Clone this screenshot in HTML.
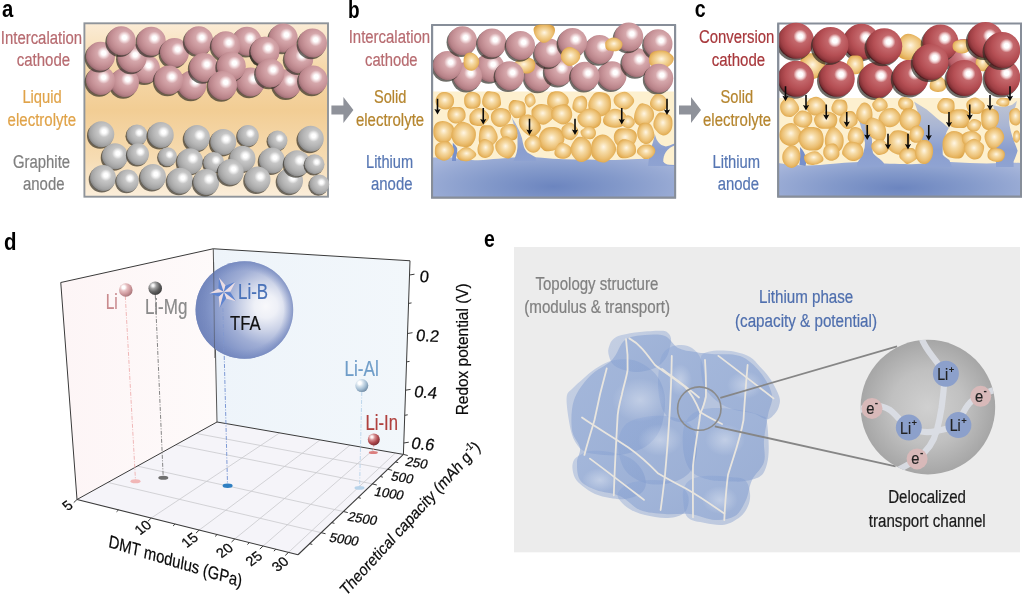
<!DOCTYPE html>
<html><head><meta charset="utf-8"><title>figure</title>
<style>html,body{margin:0;padding:0;background:#fff;}body{width:1024px;height:599px;overflow:hidden;font-family:"Liberation Sans",sans-serif;}svg{display:block;will-change:transform;font-family:"Liberation Sans",sans-serif;}</style>
</head><body>
<svg width="1024" height="599" viewBox="0 0 1024 599">
<defs>
<radialGradient id="gp" cx="0.61" cy="0.39" r="0.66">
<stop offset="0" stop-color="#ffffff"/><stop offset="0.11" stop-color="#ffffff"/><stop offset="0.215" stop-color="#f0d9db"/><stop offset="0.34" stop-color="#d5a7ab"/>
<stop offset="0.62" stop-color="#c79398"/><stop offset="0.82" stop-color="#b88389"/><stop offset="0.94" stop-color="#a07076"/><stop offset="1" stop-color="#664a4d"/></radialGradient>
<radialGradient id="gg" cx="0.61" cy="0.39" r="0.66">
<stop offset="0" stop-color="#ffffff"/><stop offset="0.11" stop-color="#ffffff"/><stop offset="0.215" stop-color="#e9e9e9"/><stop offset="0.34" stop-color="#c6c6c6"/>
<stop offset="0.62" stop-color="#b4b4b4"/><stop offset="0.82" stop-color="#a3a3a3"/><stop offset="0.94" stop-color="#8c8c8c"/><stop offset="1" stop-color="#585858"/></radialGradient>
<radialGradient id="gr" cx="0.62" cy="0.38" r="0.66">
<stop offset="0" stop-color="#ffffff"/><stop offset="0.10" stop-color="#ffffff"/><stop offset="0.185" stop-color="#efcfd0"/><stop offset="0.29" stop-color="#c4686c"/>
<stop offset="0.62" stop-color="#b54f54"/><stop offset="0.82" stop-color="#9f4045"/><stop offset="0.94" stop-color="#7f2f34"/><stop offset="1" stop-color="#45181b"/></radialGradient>
<radialGradient id="gr2" cx="0.62" cy="0.38" r="0.66">
<stop offset="0" stop-color="#ffffff"/><stop offset="0.11" stop-color="#ffffff"/><stop offset="0.22" stop-color="#f0d0d2"/><stop offset="0.34" stop-color="#d58a90"/>
<stop offset="0.60" stop-color="#c66f77"/><stop offset="0.85" stop-color="#b35a63"/><stop offset="1" stop-color="#7a3a40"/></radialGradient>
<radialGradient id="gy" cx="0.5" cy="0.5" r="0.56" fx="0.5" fy="0.44">
<stop offset="0" stop-color="#fff6e4"/><stop offset="0.32" stop-color="#f6dba6"/><stop offset="0.68" stop-color="#ecc074"/>
<stop offset="0.9" stop-color="#e1ab51"/><stop offset="1" stop-color="#d79d40"/></radialGradient>
<linearGradient id="bgA" x1="0" y1="0" x2="0" y2="1">
<stop offset="0" stop-color="#fbecd6"/><stop offset="0.25" stop-color="#f6d9ab"/><stop offset="0.5" stop-color="#f2cd94"/>
<stop offset="0.78" stop-color="#f6dcb3"/><stop offset="1" stop-color="#fbeedb"/></linearGradient>
<radialGradient id="gli" cx="0.5" cy="0.72" r="0.62" gradientTransform="translate(0.5 0.72) scale(1 1.5) translate(-0.5 -0.72)">
<stop offset="0" stop-color="#6c85bf"/><stop offset="0.45" stop-color="#8399ca"/><stop offset="0.8" stop-color="#98aad4"/><stop offset="1" stop-color="#a6b5da"/></radialGradient>
</defs>
<g font-family='"Liberation Sans", sans-serif'>
<text x="2.00" y="16.70" font-size="24" fill="#000" font-weight="bold" textLength="11.30" lengthAdjust="spacingAndGlyphs" >a</text>
<text x="348.00" y="18.00" font-size="24" fill="#000" font-weight="bold" textLength="11.60" lengthAdjust="spacingAndGlyphs" >b</text>
<text x="694.70" y="16.70" font-size="24" fill="#000" font-weight="bold" textLength="10.90" lengthAdjust="spacingAndGlyphs" >c</text>
<text x="4.00" y="250.00" font-size="24" fill="#000" font-weight="bold" textLength="12.50" lengthAdjust="spacingAndGlyphs" >d</text>
<text x="0.80" y="43.70" font-size="18" fill="#b76b70" stroke="#b76b70" stroke-width="0.22" font-weight="normal" textLength="81.30" lengthAdjust="spacingAndGlyphs" >Intercalation</text>
<text x="16.70" y="66.40" font-size="18" fill="#b76b70" stroke="#b76b70" stroke-width="0.22" font-weight="normal" textLength="53.40" lengthAdjust="spacingAndGlyphs" >cathode</text>
<text x="22.40" y="102.60" font-size="18" fill="#e0a349" stroke="#e0a349" stroke-width="0.22" font-weight="normal" textLength="39.30" lengthAdjust="spacingAndGlyphs" >Liquid</text>
<text x="7.60" y="126.10" font-size="18" fill="#e0a349" stroke="#e0a349" stroke-width="0.22" font-weight="normal" textLength="68.50" lengthAdjust="spacingAndGlyphs" >electrolyte</text>
<text x="13.00" y="167.50" font-size="18" fill="#7f7f7f" stroke="#7f7f7f" stroke-width="0.22" font-weight="normal" textLength="57.10" lengthAdjust="spacingAndGlyphs" >Graphite</text>
<text x="23.00" y="190.20" font-size="18" fill="#7f7f7f" stroke="#7f7f7f" stroke-width="0.22" font-weight="normal" textLength="41.50" lengthAdjust="spacingAndGlyphs" >anode</text>
<rect x="84.4" y="23.3" width="243.6" height="173.4" fill="url(#bgA)" stroke="#8f949a" stroke-width="1.9"/>
<circle cx="144.12" cy="70.34" r="14.55" fill="#2b2820" opacity="0.68"/><circle cx="145.50" cy="68.75" r="14.50" fill="url(#gp)"/>
<circle cx="263.62" cy="52.84" r="14.55" fill="#2b2820" opacity="0.68"/><circle cx="265.00" cy="51.25" r="14.50" fill="url(#gp)"/>
<circle cx="245.62" cy="42.84" r="14.55" fill="#2b2820" opacity="0.68"/><circle cx="247.00" cy="41.25" r="14.50" fill="url(#gp)"/>
<circle cx="281.87" cy="39.59" r="14.55" fill="#2b2820" opacity="0.68"/><circle cx="283.25" cy="38.00" r="14.50" fill="url(#gp)"/>
<circle cx="123.12" cy="84.09" r="14.55" fill="#2b2820" opacity="0.68"/><circle cx="124.50" cy="82.50" r="14.50" fill="url(#gp)"/>
<circle cx="99.12" cy="82.09" r="14.55" fill="#2b2820" opacity="0.68"/><circle cx="100.50" cy="80.50" r="14.50" fill="url(#gp)"/>
<circle cx="190.62" cy="86.59" r="14.55" fill="#2b2820" opacity="0.68"/><circle cx="192.00" cy="85.00" r="14.50" fill="url(#gp)"/>
<circle cx="249.12" cy="83.59" r="14.55" fill="#2b2820" opacity="0.68"/><circle cx="250.50" cy="82.00" r="14.50" fill="url(#gp)"/>
<circle cx="285.62" cy="85.34" r="14.55" fill="#2b2820" opacity="0.68"/><circle cx="287.00" cy="83.75" r="14.50" fill="url(#gp)"/>
<circle cx="99.12" cy="57.84" r="14.55" fill="#2b2820" opacity="0.68"/><circle cx="100.50" cy="56.25" r="14.50" fill="url(#gp)"/>
<circle cx="130.62" cy="59.59" r="14.55" fill="#2b2820" opacity="0.68"/><circle cx="132.00" cy="58.00" r="14.50" fill="url(#gp)"/>
<circle cx="149.87" cy="42.84" r="14.55" fill="#2b2820" opacity="0.68"/><circle cx="151.25" cy="41.25" r="14.50" fill="url(#gp)"/>
<circle cx="119.87" cy="42.34" r="14.55" fill="#2b2820" opacity="0.68"/><circle cx="121.25" cy="40.75" r="14.50" fill="url(#gp)"/>
<circle cx="173.12" cy="54.09" r="14.55" fill="#2b2820" opacity="0.68"/><circle cx="174.50" cy="52.50" r="14.50" fill="url(#gp)"/>
<circle cx="197.37" cy="42.34" r="14.55" fill="#2b2820" opacity="0.68"/><circle cx="198.75" cy="40.75" r="14.50" fill="url(#gp)"/>
<circle cx="224.37" cy="47.34" r="14.55" fill="#2b2820" opacity="0.68"/><circle cx="225.75" cy="45.75" r="14.50" fill="url(#gp)"/>
<circle cx="263.62" cy="52.84" r="14.55" fill="#2b2820" opacity="0.68"/><circle cx="265.00" cy="51.25" r="14.50" fill="url(#gp)"/>
<circle cx="297.37" cy="60.34" r="14.55" fill="#2b2820" opacity="0.68"/><circle cx="298.75" cy="58.75" r="14.50" fill="url(#gp)"/>
<circle cx="311.12" cy="44.59" r="14.55" fill="#2b2820" opacity="0.68"/><circle cx="312.50" cy="43.00" r="14.50" fill="url(#gp)"/>
<circle cx="202.37" cy="69.09" r="14.55" fill="#2b2820" opacity="0.68"/><circle cx="203.75" cy="67.50" r="14.50" fill="url(#gp)"/>
<circle cx="229.87" cy="67.84" r="14.55" fill="#2b2820" opacity="0.68"/><circle cx="231.25" cy="66.25" r="14.50" fill="url(#gp)"/>
<circle cx="167.37" cy="81.59" r="14.55" fill="#2b2820" opacity="0.68"/><circle cx="168.75" cy="80.00" r="14.50" fill="url(#gp)"/>
<circle cx="221.12" cy="87.09" r="14.55" fill="#2b2820" opacity="0.68"/><circle cx="222.50" cy="85.50" r="14.50" fill="url(#gp)"/>
<circle cx="268.62" cy="74.59" r="14.55" fill="#2b2820" opacity="0.68"/><circle cx="270.00" cy="73.00" r="14.50" fill="url(#gp)"/>
<circle cx="311.62" cy="81.59" r="14.55" fill="#2b2820" opacity="0.68"/><circle cx="313.00" cy="80.00" r="14.50" fill="url(#gp)"/>
<circle cx="100.02" cy="135.68" r="13.05" fill="#2b2820" opacity="0.68"/><circle cx="101.25" cy="134.25" r="13.00" fill="url(#gg)"/>
<circle cx="136.00" cy="136.16" r="10.55" fill="#2b2820" opacity="0.68"/><circle cx="137.00" cy="135.00" r="10.50" fill="url(#gg)"/>
<circle cx="159.51" cy="136.43" r="13.05" fill="#2b2820" opacity="0.68"/><circle cx="160.75" cy="135.00" r="13.00" fill="url(#gg)"/>
<circle cx="195.76" cy="139.43" r="13.05" fill="#2b2820" opacity="0.68"/><circle cx="197.00" cy="138.00" r="13.00" fill="url(#gg)"/>
<circle cx="222.01" cy="143.43" r="13.05" fill="#2b2820" opacity="0.68"/><circle cx="223.25" cy="142.00" r="13.00" fill="url(#gg)"/>
<circle cx="246.98" cy="136.93" r="10.80" fill="#2b2820" opacity="0.68"/><circle cx="248.00" cy="135.75" r="10.75" fill="url(#gg)"/>
<circle cx="276.55" cy="141.60" r="10.05" fill="#2b2820" opacity="0.68"/><circle cx="277.50" cy="140.50" r="10.00" fill="url(#gg)"/>
<circle cx="309.51" cy="140.18" r="13.05" fill="#2b2820" opacity="0.68"/><circle cx="310.75" cy="138.75" r="13.00" fill="url(#gg)"/>
<circle cx="113.77" cy="157.68" r="13.05" fill="#2b2820" opacity="0.68"/><circle cx="115.00" cy="156.25" r="13.00" fill="url(#gg)"/>
<circle cx="136.96" cy="155.46" r="11.05" fill="#2b2820" opacity="0.68"/><circle cx="138.00" cy="154.25" r="11.00" fill="url(#gg)"/>
<circle cx="166.60" cy="157.79" r="9.55" fill="#2b2820" opacity="0.68"/><circle cx="167.50" cy="156.75" r="9.50" fill="url(#gg)"/>
<circle cx="241.26" cy="160.18" r="13.05" fill="#2b2820" opacity="0.68"/><circle cx="242.50" cy="158.75" r="13.00" fill="url(#gg)"/>
<circle cx="188.76" cy="162.68" r="13.05" fill="#2b2820" opacity="0.68"/><circle cx="190.00" cy="161.25" r="13.00" fill="url(#gg)"/>
<circle cx="212.75" cy="163.66" r="10.55" fill="#2b2820" opacity="0.68"/><circle cx="213.75" cy="162.50" r="10.50" fill="url(#gg)"/>
<circle cx="270.76" cy="161.93" r="13.05" fill="#2b2820" opacity="0.68"/><circle cx="272.00" cy="160.50" r="13.00" fill="url(#gg)"/>
<circle cx="101.77" cy="179.43" r="13.05" fill="#2b2820" opacity="0.68"/><circle cx="103.00" cy="178.00" r="13.00" fill="url(#gg)"/>
<circle cx="126.43" cy="181.99" r="11.30" fill="#2b2820" opacity="0.68"/><circle cx="127.50" cy="180.75" r="11.25" fill="url(#gg)"/>
<circle cx="151.76" cy="178.43" r="13.05" fill="#2b2820" opacity="0.68"/><circle cx="153.00" cy="177.00" r="13.00" fill="url(#gg)"/>
<circle cx="178.76" cy="182.18" r="13.05" fill="#2b2820" opacity="0.68"/><circle cx="180.00" cy="180.75" r="13.00" fill="url(#gg)"/>
<circle cx="205.01" cy="183.43" r="13.05" fill="#2b2820" opacity="0.68"/><circle cx="206.25" cy="182.00" r="13.00" fill="url(#gg)"/>
<circle cx="229.51" cy="173.43" r="13.05" fill="#2b2820" opacity="0.68"/><circle cx="230.75" cy="172.00" r="13.00" fill="url(#gg)"/>
<circle cx="256.26" cy="180.93" r="13.05" fill="#2b2820" opacity="0.68"/><circle cx="257.50" cy="179.50" r="13.00" fill="url(#gg)"/>
<circle cx="288.76" cy="182.18" r="13.05" fill="#2b2820" opacity="0.68"/><circle cx="290.00" cy="180.75" r="13.00" fill="url(#gg)"/>
<circle cx="318.30" cy="185.60" r="10.05" fill="#2b2820" opacity="0.68"/><circle cx="319.25" cy="184.50" r="10.00" fill="url(#gg)"/>
<circle cx="295.76" cy="164.68" r="13.05" fill="#2b2820" opacity="0.68"/><circle cx="297.00" cy="163.25" r="13.00" fill="url(#gg)"/>
<circle cx="313.55" cy="165.35" r="10.05" fill="#2b2820" opacity="0.68"/><circle cx="314.50" cy="164.25" r="10.00" fill="url(#gg)"/>
<text x="348.70" y="43.40" font-size="18" fill="#b76b70" stroke="#b76b70" stroke-width="0.22" font-weight="normal" textLength="81.40" lengthAdjust="spacingAndGlyphs" >Intercalation</text>
<text x="365.00" y="66.40" font-size="18" fill="#b76b70" stroke="#b76b70" stroke-width="0.22" font-weight="normal" textLength="52.60" lengthAdjust="spacingAndGlyphs" >cathode</text>
<text x="374.00" y="102.60" font-size="18" fill="#b5852e" stroke="#b5852e" stroke-width="0.22" font-weight="normal" textLength="32.50" lengthAdjust="spacingAndGlyphs" >Solid</text>
<text x="355.90" y="126.00" font-size="18" fill="#b5852e" stroke="#b5852e" stroke-width="0.22" font-weight="normal" textLength="68.30" lengthAdjust="spacingAndGlyphs" >electrolyte</text>
<text x="366.00" y="167.50" font-size="18" fill="#5676b3" stroke="#5676b3" stroke-width="0.22" font-weight="normal" textLength="47.10" lengthAdjust="spacingAndGlyphs" >Lithium</text>
<text x="371.00" y="190.20" font-size="18" fill="#5676b3" stroke="#5676b3" stroke-width="0.22" font-weight="normal" textLength="41.50" lengthAdjust="spacingAndGlyphs" >anode</text>
<path d="M331.4 105.6H343.4V97L353.4 110L343.4 123V114.5H331.4Z" fill="#8f929a"/>
<path d="M679 105.6H691V97L701 110L691 123V114.5H679Z" fill="#8f929a"/>
<defs><linearGradient id="dend" gradientUnits="userSpaceOnUse" x1="0" y1="100" x2="0" y2="166"><stop offset="0" stop-color="#c1c6d2"/><stop offset="0.4" stop-color="#a9b5d3"/><stop offset="0.75" stop-color="#8a9ecf"/><stop offset="1" stop-color="#8fa3d2"/></linearGradient><clipPath id="clipB"><rect x="432.1" y="15" width="243" height="182.6"/></clipPath><clipPath id="clipC"><rect x="778.2" y="15" width="242.8" height="181.6"/></clipPath></defs>
<rect x="432.1" y="25" width="243" height="172.6" fill="#fff" stroke="#878e99" stroke-width="2"/>
<g clip-path="url(#clipB)">
<rect x="431" y="91.5" width="245" height="70" fill="#fdf0cf"/>
<path d="M431 157.4 C440 157.4 448 157.4 453 157.6 C460 159.5 470 160.3 478 160.3 C485 160 492 159.2 498 158.8 C508 157.5 520 156.9 532 157 C545 158 560 159.5 575 159.5 C590 159 600 160.5 615 160 C630 159 645 158.5 660 158.5 C668 158.6 672 158.3 676 158 V198 H431Z" fill="url(#gli)"/>
<path d="M452.8 142.8 C454.5 144.3 456 146 457.1 148 C457.6 151 457 154.5 456 157.4 L456 161 L452 161 C452.5 155 452.8 149 452.8 142.8Z" fill="#7790cb"/>
<path d="M511.6 117 C512.5 119.5 513 121.5 513.4 123.4 C515 127.5 516.5 131.5 517.5 135 L517.5 146.7 C517.3 150 516.8 153 515.5 156 L513.5 161 L536 161 L535.6 157.2 C532.5 155.5 529.8 154.2 527.4 152.6 C525.5 150.5 524.6 148.6 523.9 146.7 C523 144 522.5 141.3 522.1 138.6 C521.2 135.8 520.2 133 519.2 130.4 C516.7 125.5 514.2 121 511.6 117Z" fill="url(#dend)"/>
<path d="M654.8 134.1 C655.3 136 655.9 137.8 656.6 139.4 C657.6 141.2 658.8 142.7 660.1 144 C661.8 145.3 663.8 146.1 665.9 146.4 C668.5 146 670.9 145.2 673 144 L676 143.2 L676 166 L648 166 L650 150 C652.5 145 654 139.5 654.8 134.1Z" fill="url(#dend)"/>
<path d="M676 144.8 C671.5 146.5 668 149 665.9 152 C664 155 663 158.5 663.3 161.5 C664.2 163.6 666.5 164.6 669.5 164.8 L676 165Z" fill="#fdf0cf"/>
<circle cx="488.62" cy="69.09" r="14.55" fill="#2b2820" opacity="0.68"/><circle cx="490.00" cy="67.50" r="14.50" fill="url(#gp)"/>
<circle cx="466.12" cy="77.84" r="14.55" fill="#2b2820" opacity="0.68"/><circle cx="467.50" cy="76.25" r="14.50" fill="url(#gp)"/>
<circle cx="537.37" cy="78.59" r="14.55" fill="#2b2820" opacity="0.68"/><circle cx="538.75" cy="77.00" r="14.50" fill="url(#gp)"/>
<circle cx="557.37" cy="72.84" r="14.55" fill="#2b2820" opacity="0.68"/><circle cx="558.75" cy="71.25" r="14.50" fill="url(#gp)"/>
<circle cx="610.62" cy="77.34" r="14.55" fill="#2b2820" opacity="0.68"/><circle cx="612.00" cy="75.75" r="14.50" fill="url(#gp)"/>
<circle cx="446.12" cy="67.09" r="14.55" fill="#2b2820" opacity="0.68"/><circle cx="447.50" cy="65.50" r="14.50" fill="url(#gp)"/>
<path d="M535.2 64.5C535.2 66.6 534.9 69.2 533.2 70.9C531.4 72.6 529.0 73.4 526.1 73.5C523.1 73.6 520.4 72.9 517.9 71.3C515.3 69.8 513.0 67.7 512.8 65.6C512.6 63.5 514.7 62.2 516.9 60.5C519.2 58.8 521.5 56.9 524.6 56.7C527.7 56.5 531.1 58.1 533.1 59.6C535.1 61.1 535.2 62.3 535.2 64.5Z" fill="url(#gy)"/>
<circle cx="508.12" cy="77.34" r="14.55" fill="#2b2820" opacity="0.68"/><circle cx="509.50" cy="75.75" r="14.50" fill="url(#gp)"/>
<circle cx="583.62" cy="77.84" r="14.55" fill="#2b2820" opacity="0.68"/><circle cx="585.00" cy="76.25" r="14.50" fill="url(#gp)"/>
<circle cx="547.37" cy="54.59" r="14.55" fill="#2b2820" opacity="0.68"/><circle cx="548.75" cy="53.00" r="14.50" fill="url(#gp)"/>
<circle cx="634.87" cy="64.09" r="14.55" fill="#2b2820" opacity="0.68"/><circle cx="636.25" cy="62.50" r="14.50" fill="url(#gp)"/>
<circle cx="461.12" cy="42.34" r="14.55" fill="#2b2820" opacity="0.68"/><circle cx="462.50" cy="40.75" r="14.50" fill="url(#gp)"/>
<circle cx="490.62" cy="44.59" r="14.55" fill="#2b2820" opacity="0.68"/><circle cx="492.00" cy="43.00" r="14.50" fill="url(#gp)"/>
<circle cx="519.12" cy="47.09" r="14.55" fill="#2b2820" opacity="0.68"/><circle cx="520.50" cy="45.50" r="14.50" fill="url(#gp)"/>
<circle cx="598.12" cy="51.09" r="14.55" fill="#2b2820" opacity="0.68"/><circle cx="599.50" cy="49.50" r="14.50" fill="url(#gp)"/>
<circle cx="571.12" cy="44.09" r="14.55" fill="#2b2820" opacity="0.68"/><circle cx="572.50" cy="42.50" r="14.50" fill="url(#gp)"/>
<circle cx="627.37" cy="38.59" r="14.55" fill="#2b2820" opacity="0.68"/><circle cx="628.75" cy="37.00" r="14.50" fill="url(#gp)"/>
<circle cx="656.62" cy="45.34" r="14.55" fill="#2b2820" opacity="0.68"/><circle cx="658.00" cy="43.75" r="14.50" fill="url(#gp)"/>
<path d="M673.8 58.8C673.7 61.3 672.1 63.8 669.4 65.8C666.7 67.9 663.3 69.5 659.8 69.5C656.3 69.5 653.5 67.7 651.4 65.8C649.4 64.0 648.9 62.4 649.0 59.8C649.1 57.3 649.5 54.3 652.0 52.5C654.4 50.7 658.6 50.4 662.0 50.5C665.5 50.7 667.5 51.7 669.8 53.3C672.0 54.9 673.9 56.4 673.8 58.8Z" fill="url(#gy)"/>
<circle cx="657.37" cy="79.84" r="14.55" fill="#2b2820" opacity="0.68"/><circle cx="658.75" cy="78.25" r="14.50" fill="url(#gp)"/>
<path d="M533.6 30 C533.5 26.4 536.5 24.7 541 24.6 L548 24.6 C552.4 24.7 555.2 26.6 555 30.6 C554.6 35.2 551.6 39.2 548 41.6 C545.5 43.1 543 43.1 541 41.9 C537 39.6 533.9 35 533.6 30Z" fill="url(#gy)"/>
<path d="M479.2 61.9C479.2 64.3 478.1 66.4 476.6 68.1C475.0 69.8 473.5 70.9 471.3 70.8C469.1 70.7 466.6 69.6 465.1 67.8C463.6 66.0 463.7 64.0 463.6 61.6C463.6 59.1 463.6 57.0 464.9 55.2C466.2 53.5 468.2 52.5 470.5 52.6C472.7 52.7 475.0 54.0 476.7 55.8C478.4 57.6 479.3 59.6 479.2 61.9Z" fill="url(#gy)"/>
<path d="M580.3 55.3C580.4 57.6 579.7 59.8 577.7 61.9C575.7 63.9 572.4 65.8 569.7 66.0C567.0 66.1 565.4 64.4 563.7 62.7C562.0 61.0 561.0 59.4 560.9 57.1C560.7 54.8 561.2 52.7 562.8 50.7C564.4 48.8 566.5 47.2 569.2 47.1C571.9 47.0 574.6 48.5 576.8 50.1C578.9 51.7 580.1 53.0 580.3 55.3Z" fill="url(#gy)"/>
<path d="M622.5 44.8C622.3 46.6 621.3 48.5 619.6 49.7C618.0 51.0 616.4 51.2 614.0 51.2C611.5 51.3 608.8 51.1 607.1 49.8C605.4 48.5 605.3 46.3 605.3 44.5C605.2 42.7 605.2 41.7 606.8 40.4C608.4 39.0 611.1 37.6 613.6 37.5C616.2 37.5 618.5 38.9 620.2 40.3C621.9 41.7 622.6 43.0 622.5 44.8Z" fill="url(#gy)"/>
<path d="M454.1 101.0C454.1 103.5 453.0 105.6 451.4 107.3C449.7 108.9 447.9 109.6 445.4 109.5C442.8 109.4 440.2 108.3 438.3 106.8C436.4 105.2 435.6 103.6 435.5 101.4C435.5 99.1 436.3 96.9 437.9 95.1C439.4 93.3 440.9 92.3 443.5 92.1C446.1 92.0 449.2 92.6 451.2 94.3C453.3 96.0 454.0 98.5 454.1 101.0Z" fill="url(#gy)"/>
<path d="M480.6 100.3C480.7 102.6 480.5 104.7 479.0 106.4C477.5 108.0 475.3 108.7 472.8 108.8C470.4 108.9 467.8 108.5 466.1 106.9C464.4 105.2 464.1 102.4 464.1 100.1C464.1 97.7 464.5 96.1 466.0 94.5C467.4 92.9 469.3 91.7 471.7 91.7C474.2 91.6 477.0 92.7 478.7 94.3C480.4 96.0 480.5 97.9 480.6 100.3Z" fill="url(#gy)"/>
<path d="M500.8 100.8C501.1 103.2 501.5 104.8 499.6 106.6C497.8 108.4 494.2 110.1 491.3 110.2C488.4 110.3 486.4 108.9 484.7 107.3C482.9 105.6 482.0 104.2 482.1 101.4C482.3 98.7 483.6 94.8 485.3 92.9C487.0 91.0 488.4 91.3 490.9 91.4C493.4 91.6 496.4 91.9 498.3 93.7C500.2 95.5 500.5 98.3 500.8 100.8Z" fill="url(#gy)"/>
<path d="M525.6 109.0C525.7 111.5 526.3 113.7 524.6 115.4C522.8 117.2 518.9 118.2 516.5 118.2C514.1 118.2 513.6 117.2 512.0 115.3C510.5 113.4 508.8 110.9 508.6 108.2C508.4 105.5 509.6 102.7 511.2 101.2C512.7 99.6 514.3 99.9 516.8 100.2C519.3 100.5 522.2 100.9 523.9 102.6C525.6 104.3 525.5 106.6 525.6 109.0Z" fill="url(#gy)"/>
<path d="M535.6 101.0C535.6 102.8 535.2 103.4 534.0 104.6C532.8 105.8 530.9 107.4 529.4 107.4C527.9 107.3 527.0 105.7 526.1 104.4C525.2 103.1 524.8 102.0 524.7 100.4C524.6 98.9 524.8 97.6 525.7 96.2C526.7 94.9 528.3 93.6 529.8 93.4C531.3 93.2 532.6 93.7 533.7 95.2C534.8 96.7 535.5 99.2 535.6 101.0Z" fill="url(#gy)"/>
<path d="M568.8 100.9C568.9 103.4 567.4 105.2 565.3 107.1C563.1 108.9 560.4 110.6 557.5 110.6C554.5 110.7 551.9 108.9 549.9 107.3C547.9 105.6 547.1 104.6 547.1 102.0C547.1 99.4 547.8 95.6 549.9 93.5C552.0 91.5 555.1 91.2 558.0 91.3C560.9 91.4 562.9 92.4 565.0 94.2C567.1 96.0 568.8 98.4 568.8 100.9Z" fill="url(#gy)"/>
<path d="M587.2 104.1C587.1 106.6 586.5 109.1 585.1 110.9C583.7 112.6 581.9 113.3 579.8 113.2C577.6 113.1 575.3 111.8 573.9 110.3C572.5 108.9 572.3 108.0 572.5 105.7C572.7 103.5 573.4 100.6 574.9 98.7C576.4 96.8 578.3 96.0 580.4 95.9C582.4 95.7 584.2 96.2 585.5 97.8C586.9 99.4 587.3 101.6 587.2 104.1Z" fill="url(#gy)"/>
<path d="M611.0 103.6C611.1 106.9 610.9 109.8 608.9 112.3C606.9 114.8 603.7 116.3 600.5 116.6C597.3 116.9 594.6 116.1 592.2 113.9C589.9 111.7 588.2 108.7 588.2 105.2C588.3 101.6 590.4 97.9 592.5 95.4C594.5 92.9 595.7 92.2 598.8 92.1C601.8 92.0 606.0 92.8 608.3 95.0C610.7 97.2 610.9 100.3 611.0 103.6Z" fill="url(#gy)"/>
<path d="M634.2 101.0C634.1 103.4 632.0 105.5 630.2 107.1C628.4 108.7 627.3 109.5 624.7 109.4C622.2 109.3 619.2 108.3 617.1 106.6C614.9 104.9 613.8 102.8 613.6 100.6C613.5 98.3 614.3 96.5 616.4 94.8C618.5 93.1 621.8 91.7 624.6 91.7C627.3 91.7 628.9 93.1 630.7 94.9C632.6 96.7 634.3 98.7 634.2 101.0Z" fill="url(#gy)"/>
<path d="M667.8 104.0C667.9 106.4 666.8 107.9 665.1 109.3C663.4 110.7 661.5 111.4 659.1 111.2C656.6 111.1 654.2 110.0 652.5 108.5C650.8 107.0 650.0 105.7 650.0 103.6C650.0 101.5 650.9 99.3 652.4 97.4C653.9 95.6 655.5 94.1 657.8 94.0C660.1 93.8 662.6 94.7 664.5 96.7C666.4 98.6 667.7 101.6 667.8 104.0Z" fill="url(#gy)"/>
<path d="M465.6 114.6C465.7 116.8 465.4 118.8 463.5 120.5C461.7 122.2 458.6 123.4 456.0 123.5C453.4 123.6 451.7 122.7 450.1 121.1C448.4 119.4 447.4 117.4 447.4 114.9C447.4 112.4 448.2 109.7 450.2 108.2C452.1 106.7 455.1 107.0 457.6 107.1C460.1 107.1 461.5 107.2 463.0 108.6C464.5 110.1 465.5 112.3 465.6 114.6Z" fill="url(#gy)"/>
<path d="M489.1 117.3C489.0 119.8 486.4 122.0 484.6 123.7C482.8 125.4 482.2 125.9 479.7 126.0C477.1 126.0 473.3 125.6 471.3 124.0C469.3 122.4 469.3 119.9 469.4 117.6C469.4 115.4 469.8 114.1 471.5 112.3C473.2 110.4 475.6 108.4 478.2 108.1C480.8 107.8 482.9 108.9 485.0 110.6C487.1 112.4 489.2 114.8 489.1 117.3Z" fill="url(#gy)"/>
<path d="M511.1 116.3C511.1 118.8 510.1 121.2 508.0 123.2C505.9 125.3 503.1 126.9 500.2 126.9C497.4 127.0 494.9 125.6 493.1 123.5C491.3 121.4 490.7 118.6 490.9 116.1C491.1 113.5 492.3 111.8 494.1 110.3C495.9 108.7 497.5 108.0 500.2 108.0C502.8 108.0 505.7 108.5 507.8 110.1C509.9 111.7 511.0 113.7 511.1 116.3Z" fill="url(#gy)"/>
<path d="M554.0 114.9C554.3 117.4 553.4 118.1 551.3 120.0C549.3 121.8 546.6 124.6 543.3 124.7C539.9 124.8 536.2 122.8 533.9 120.5C531.6 118.2 531.5 115.2 531.5 112.7C531.4 110.1 531.6 109.0 533.5 107.4C535.4 105.7 538.0 104.1 541.2 104.0C544.4 103.9 547.7 104.8 550.2 106.9C552.6 109.0 553.8 112.4 554.0 114.9Z" fill="url(#gy)"/>
<path d="M572.2 113.8C572.4 116.5 571.7 118.7 570.0 120.7C568.2 122.8 566.1 124.5 563.2 124.5C560.3 124.5 557.1 122.6 554.8 120.8C552.5 118.9 551.6 117.5 551.4 114.9C551.1 112.4 551.6 109.6 553.6 107.5C555.7 105.5 559.1 104.6 562.1 104.4C565.0 104.1 567.0 104.5 569.0 106.3C570.9 108.1 572.0 111.0 572.2 113.8Z" fill="url(#gy)"/>
<path d="M601.1 117.9C601.4 120.7 601.1 123.6 599.0 125.7C597.0 127.8 594.1 128.8 590.5 128.8C587.0 128.7 583.1 127.4 580.6 125.2C578.1 123.1 577.3 120.0 577.4 117.6C577.5 115.2 579.2 114.3 581.4 112.5C583.5 110.7 585.4 108.6 588.6 108.4C591.7 108.1 595.4 109.5 597.8 111.3C600.2 113.1 600.9 115.1 601.1 117.9Z" fill="url(#gy)"/>
<path d="M626.7 119.5C626.4 122.1 624.9 124.5 622.6 126.1C620.3 127.7 617.8 127.8 614.6 127.7C611.4 127.5 608.0 126.9 605.8 125.3C603.6 123.7 602.7 121.9 603.1 119.4C603.5 116.9 605.6 114.4 607.8 112.3C610.1 110.3 611.7 108.7 614.8 108.7C617.9 108.7 621.7 110.4 624.0 112.4C626.3 114.5 626.9 116.9 626.7 119.5Z" fill="url(#gy)"/>
<path d="M634.8 122.6C634.8 124.4 633.6 125.7 632.3 126.8C631.0 127.9 629.6 128.5 627.8 128.4C626.1 128.2 624.5 127.3 623.1 126.0C621.8 124.6 620.8 122.9 620.9 121.4C620.9 119.9 622.3 119.3 623.5 118.2C624.8 117.0 625.7 115.5 627.3 115.4C629.0 115.2 630.8 116.2 632.3 117.6C633.7 119.0 634.8 120.8 634.8 122.6Z" fill="url(#gy)"/>
<path d="M654.0 116.2C653.7 119.1 651.7 121.1 649.7 123.1C647.6 125.1 646.0 126.4 643.4 126.5C640.7 126.5 637.6 125.2 635.8 123.2C634.1 121.2 633.8 119.1 634.2 115.8C634.5 112.6 635.9 108.8 637.7 106.4C639.5 104.0 640.8 103.1 643.4 103.4C646.1 103.6 649.5 105.2 651.5 107.7C653.6 110.1 654.4 113.2 654.0 116.2Z" fill="url(#gy)"/>
<path d="M672.5 123.2C672.5 126.3 672.0 129.4 670.1 131.7C668.3 134.0 665.7 135.6 663.0 135.4C660.3 135.1 657.9 132.7 656.1 130.5C654.2 128.3 653.2 126.8 653.4 123.8C653.5 120.8 655.2 117.1 656.8 114.9C658.5 112.8 659.3 112.3 661.9 112.4C664.4 112.6 668.1 113.5 670.1 115.6C672.2 117.7 672.5 120.1 672.5 123.2Z" fill="url(#gy)"/>
<path d="M454.1 130.0C454.0 133.2 452.5 137.5 450.4 140.0C448.3 142.5 445.8 143.1 443.0 143.0C440.2 142.9 437.7 141.7 435.8 139.6C434.0 137.5 433.4 135.1 433.3 132.1C433.3 129.1 433.8 126.0 435.6 123.8C437.4 121.7 439.8 120.9 442.7 120.9C445.6 120.9 448.6 122.0 450.8 123.7C452.9 125.5 454.1 126.9 454.1 130.0Z" fill="url(#gy)"/>
<path d="M475.9 135.2C475.7 138.7 473.9 142.5 471.8 144.7C469.6 147.0 468.0 147.1 464.8 146.9C461.6 146.8 457.7 146.3 455.1 144.0C452.6 141.7 451.5 138.4 451.4 135.1C451.4 131.8 452.8 129.3 454.9 126.8C457.0 124.2 458.9 121.7 462.4 121.7C465.9 121.7 470.4 124.2 472.9 126.8C475.5 129.4 476.1 131.8 475.9 135.2Z" fill="url(#gy)"/>
<path d="M497.7 136.9C497.9 140.0 496.2 141.6 494.2 143.7C492.3 145.8 490.1 147.8 487.3 147.9C484.6 148.1 481.7 146.8 480.1 144.6C478.5 142.3 478.6 139.6 478.9 136.2C479.1 132.8 479.7 128.8 481.4 126.7C483.1 124.7 485.5 125.2 487.8 125.3C490.0 125.4 491.3 125.1 493.2 127.3C495.1 129.5 497.5 133.7 497.7 136.9Z" fill="url(#gy)"/>
<path d="M517.4 132.5C517.6 135.1 517.7 137.3 516.1 138.9C514.5 140.4 511.6 140.7 509.2 140.6C506.7 140.5 505.2 140.2 503.4 138.4C501.7 136.7 500.3 133.7 500.3 131.5C500.2 129.2 501.5 127.9 503.3 126.5C505.1 125.1 507.3 124.3 509.5 124.1C511.8 123.9 513.4 123.9 515.0 125.6C516.5 127.2 517.2 130.0 517.4 132.5Z" fill="url(#gy)"/>
<path d="M538.6 125.6C538.7 128.7 538.8 131.4 537.2 133.5C535.6 135.6 532.8 136.3 530.2 136.5C527.7 136.7 525.5 137.1 523.7 134.6C521.9 132.1 520.9 127.2 520.8 123.5C520.8 119.7 521.9 117.1 523.6 115.1C525.3 113.1 527.3 112.5 529.8 112.9C532.3 113.4 534.9 114.9 536.6 117.4C538.3 119.8 538.5 122.5 538.6 125.6Z" fill="url(#gy)" transform="rotate(-38 530.0 125.0)"/>
<path d="M564.4 139.8C564.1 143.2 561.6 145.3 558.9 147.5C556.2 149.6 553.5 150.7 550.4 151.1C547.3 151.5 545.1 151.7 542.8 149.5C540.6 147.4 538.5 143.7 538.5 140.0C538.5 136.3 540.2 132.8 542.6 130.3C545.1 127.8 547.5 127.1 551.0 127.0C554.5 126.9 558.2 127.3 560.8 129.7C563.4 132.2 564.8 136.4 564.4 139.8Z" fill="url(#gy)"/>
<path d="M578.4 132.0C578.2 134.3 576.4 136.4 574.8 138.0C573.3 139.5 572.3 140.3 570.1 140.1C567.9 139.9 565.3 139.0 563.6 137.1C561.9 135.2 561.4 132.3 561.4 130.2C561.4 128.0 562.1 127.2 563.7 125.7C565.4 124.2 567.6 122.3 569.9 122.4C572.2 122.5 574.1 124.3 575.7 126.1C577.3 128.0 578.5 129.7 578.4 132.0Z" fill="url(#gy)"/>
<path d="M596.0 133.0C596.0 135.0 594.8 137.0 593.6 138.1C592.4 139.3 591.5 139.2 589.6 139.2C587.8 139.1 585.7 139.4 584.0 138.1C582.2 136.8 580.6 134.0 580.5 132.2C580.4 130.4 581.8 129.9 583.5 128.7C585.1 127.5 587.1 126.3 589.1 126.2C591.0 126.1 592.4 126.8 593.8 128.1C595.1 129.4 596.0 131.1 596.0 133.0Z" fill="url(#gy)"/>
<path d="M636.9 136.7C636.7 139.5 635.3 142.9 633.2 145.0C631.1 147.1 629.1 147.6 626.1 147.8C623.0 147.9 619.8 147.6 617.5 145.6C615.1 143.7 614.0 140.6 613.8 137.6C613.7 134.6 614.7 131.7 616.9 129.9C619.1 128.1 622.2 128.1 625.4 128.2C628.7 128.3 631.7 128.8 633.9 130.4C636.0 132.0 637.0 133.9 636.9 136.7Z" fill="url(#gy)"/>
<path d="M654.4 134.8C654.5 137.7 653.7 138.7 652.2 140.4C650.8 142.2 649.0 143.9 646.7 144.1C644.4 144.2 642.2 143.3 640.4 141.3C638.5 139.3 637.2 136.8 637.2 133.6C637.1 130.4 638.2 126.6 640.1 124.6C642.0 122.5 644.9 122.7 647.1 122.9C649.3 123.1 650.1 123.4 651.5 125.7C652.9 128.0 654.2 132.0 654.4 134.8Z" fill="url(#gy)"/>
<path d="M454.1 150.3C454.2 152.8 453.0 154.7 451.1 156.7C449.3 158.7 447.3 160.6 444.5 160.7C441.6 160.7 438.1 159.0 436.3 157.0C434.5 154.9 434.8 152.4 434.9 150.0C435.1 147.5 435.1 145.8 437.1 144.1C439.1 142.4 442.8 141.2 445.4 141.1C448.1 141.1 449.2 142.1 450.9 143.9C452.5 145.6 454.1 147.8 454.1 150.3Z" fill="url(#gy)"/>
<path d="M476.3 154.3C476.5 156.1 474.7 157.4 472.8 158.7C470.9 160.0 469.1 161.0 466.5 161.2C463.9 161.4 461.3 161.0 459.4 159.8C457.5 158.5 456.6 156.5 456.7 154.7C456.7 152.8 457.9 151.7 459.7 150.3C461.5 148.8 463.7 147.3 466.0 147.1C468.3 146.9 469.9 148.0 471.9 149.4C473.9 150.8 476.1 152.5 476.3 154.3Z" fill="url(#gy)"/>
<path d="M493.8 149.3C493.6 151.9 492.2 154.1 490.5 155.8C488.8 157.4 487.2 158.0 485.0 157.9C482.9 157.8 480.7 156.8 479.3 155.2C477.9 153.6 477.6 152.0 477.5 149.8C477.5 147.5 478.0 145.3 479.2 143.3C480.5 141.2 481.6 139.1 484.0 138.9C486.3 138.7 489.6 140.1 491.4 142.1C493.3 144.1 494.0 146.7 493.8 149.3Z" fill="url(#gy)"/>
<path d="M515.9 147.7C515.8 150.2 514.9 152.6 513.3 154.7C511.7 156.8 510.3 158.7 507.5 158.6C504.7 158.4 501.0 156.3 498.6 154.0C496.3 151.6 495.3 149.0 495.2 146.3C495.2 143.7 496.1 142.2 498.3 140.3C500.4 138.4 503.5 136.0 506.5 136.3C509.4 136.5 511.7 139.2 513.5 141.4C515.3 143.6 515.9 145.1 515.9 147.7Z" fill="url(#gy)"/>
<path d="M541.3 143.4C541.3 145.8 540.4 148.3 538.9 150.1C537.4 151.9 535.5 152.6 533.4 152.7C531.2 152.7 529.3 152.0 527.6 150.3C525.9 148.6 524.6 146.1 524.5 143.8C524.5 141.4 525.7 139.9 527.5 138.3C529.2 136.6 531.3 135.2 533.5 135.2C535.7 135.1 537.3 136.4 538.8 138.0C540.3 139.6 541.2 141.1 541.3 143.4Z" fill="url(#gy)"/>
<path d="M571.5 150.5C571.5 152.5 571.1 154.8 569.3 156.4C567.6 158.0 564.8 158.8 562.2 158.8C559.7 158.8 557.5 157.5 556.0 156.2C554.5 154.9 554.3 154.1 554.5 152.1C554.7 150.0 555.8 147.3 557.2 145.5C558.6 143.6 559.2 142.4 561.6 142.5C563.9 142.6 567.5 144.5 569.4 146.0C571.4 147.6 571.5 148.5 571.5 150.5Z" fill="url(#gy)"/>
<path d="M591.7 150.5C591.8 153.7 591.3 155.7 589.3 158.0C587.3 160.2 584.2 162.0 581.4 162.0C578.5 162.0 576.4 160.4 574.3 158.0C572.2 155.5 570.5 152.7 570.5 149.3C570.5 145.9 572.5 142.7 574.3 140.3C576.2 137.9 577.3 136.6 580.1 136.8C583.0 136.9 586.9 138.3 589.1 141.0C591.3 143.6 591.7 147.2 591.7 150.5Z" fill="url(#gy)"/>
<path d="M616.1 149.0C616.0 153.0 612.7 156.7 610.1 159.3C607.5 161.9 605.6 162.7 602.5 162.6C599.4 162.4 596.2 160.9 594.0 158.6C591.7 156.2 591.0 154.0 591.0 150.3C590.9 146.6 591.4 142.5 593.6 139.4C595.8 136.3 598.9 134.6 602.2 134.4C605.5 134.2 608.0 135.6 610.7 138.4C613.3 141.2 616.2 145.0 616.1 149.0Z" fill="url(#gy)"/>
<path d="M636.0 149.4C636.1 151.8 635.8 153.5 633.7 155.2C631.7 156.9 628.2 158.1 625.4 158.3C622.5 158.5 620.6 158.1 618.9 156.4C617.2 154.7 616.5 152.4 616.6 149.5C616.7 146.6 617.6 143.4 619.3 141.4C621.0 139.5 622.8 139.0 625.5 139.3C628.2 139.6 631.3 140.9 633.3 142.9C635.4 144.8 636.0 147.0 636.0 149.4Z" fill="url(#gy)"/>
<path d="M655.3 151.2C655.1 153.2 653.7 155.4 651.8 156.9C649.9 158.4 647.4 159.2 645.3 159.1C643.3 159.1 642.7 157.8 641.1 156.4C639.4 155.0 637.0 153.8 636.9 151.9C636.8 149.9 638.4 147.7 640.4 146.3C642.3 144.9 644.4 144.5 646.8 144.5C649.2 144.5 651.2 144.9 652.8 146.2C654.4 147.5 655.4 149.1 655.3 151.2Z" fill="url(#gy)"/>
<path d="M437.50 98.75V110.50" stroke="#0a0a0a" stroke-width="1.6" fill="none"/><path d="M434.40 108.90L437.50 114.50L440.60 108.90L437.50 110.10Z" fill="#0a0a0a"/>
<path d="M483.25 108.00V120.50" stroke="#0a0a0a" stroke-width="1.6" fill="none"/><path d="M480.15 118.90L483.25 124.50L486.35 118.90L483.25 120.10Z" fill="#0a0a0a"/>
<path d="M529.50 118.75V131.00" stroke="#0a0a0a" stroke-width="1.6" fill="none"/><path d="M526.40 129.40L529.50 135.00L532.60 129.40L529.50 130.60Z" fill="#0a0a0a"/>
<path d="M575.00 118.75V131.00" stroke="#0a0a0a" stroke-width="1.6" fill="none"/><path d="M571.90 129.40L575.00 135.00L578.10 129.40L575.00 130.60Z" fill="#0a0a0a"/>
<path d="M621.75 108.00V120.50" stroke="#0a0a0a" stroke-width="1.6" fill="none"/><path d="M618.65 118.90L621.75 124.50L624.85 118.90L621.75 120.10Z" fill="#0a0a0a"/>
<path d="M667.00 98.75V111.00" stroke="#0a0a0a" stroke-width="1.6" fill="none"/><path d="M663.90 109.40L667.00 115.00L670.10 109.40L667.00 110.60Z" fill="#0a0a0a"/>
</g>
<path d="M432.1 25V197.6H675.1V25" fill="none" stroke="#878e99" stroke-width="2"/>
<text x="698.90" y="43.00" font-size="18" fill="#a8383c" stroke="#a8383c" stroke-width="0.22" font-weight="normal" textLength="75.40" lengthAdjust="spacingAndGlyphs" >Conversion</text>
<text x="711.70" y="66.00" font-size="18" fill="#a8383c" stroke="#a8383c" stroke-width="0.22" font-weight="normal" textLength="53.40" lengthAdjust="spacingAndGlyphs" >cathode</text>
<text x="720.50" y="102.60" font-size="18" fill="#b5852e" stroke="#b5852e" stroke-width="0.22" font-weight="normal" textLength="32.60" lengthAdjust="spacingAndGlyphs" >Solid</text>
<text x="703.00" y="126.00" font-size="18" fill="#b5852e" stroke="#b5852e" stroke-width="0.22" font-weight="normal" textLength="68.20" lengthAdjust="spacingAndGlyphs" >electrolyte</text>
<text x="712.50" y="167.50" font-size="18" fill="#5676b3" stroke="#5676b3" stroke-width="0.22" font-weight="normal" textLength="47.60" lengthAdjust="spacingAndGlyphs" >Lithium</text>
<text x="717.70" y="190.20" font-size="18" fill="#5676b3" stroke="#5676b3" stroke-width="0.22" font-weight="normal" textLength="41.40" lengthAdjust="spacingAndGlyphs" >anode</text>
<rect x="778.2" y="23.5" width="242.8" height="173.1" fill="#fff" stroke="#878e99" stroke-width="2"/>
<g clip-path="url(#clipC)">
<rect x="778" y="98" width="243" height="68" fill="#fdf0cf"/>
<path d="M778 163 C790 165 805 166 820 165 C840 163 850 162 865 162 C880 163 890 164 905 164 C920 165 935 162 950 162 C970 163 985 164 1000 163 C1010 162 1015 163 1021 163 V198 H778Z" fill="url(#gli)"/>
<path d="M799.4 165 C800.4 158 800.2 152 800 147 C803 150 805.5 154 806.2 159 C806.5 162 806 164 805.5 166Z" fill="#7790cb"/>
<path d="M858.8 120.7 C860 123 860.5 125 861 127 C862 130 862.8 133 863.5 136 C864.2 138.5 864.8 141 865 143 C865 146 864.5 149 863.5 152 C862 156 860 159 857 163 L857 167 L885 167 L883.6 162.8 C882 161 881 160 879.5 158.8 C877 157 874.5 155 873 153 C872 149 872 144 872 140 C871.5 136 871 132 870 128 C868.5 125.5 867.5 124 866 123 C863.5 122 861 121 858.8 120.7Z" fill="url(#dend)"/>
<path d="M914 101.4 C918 104 922.5 106.5 926.7 109.4 C930 112 933 114.5 936 117.4 C940.5 121 945 124.5 948.8 128 C947.5 130.5 946.5 132 946 134 C945 137 944 141 943 145 C942.6 148.5 942.6 152 942.8 154.8 C944.5 157 947 158.5 949.4 160 L952 167 L925 167 L925 150 C923.5 145 921.5 140 920 135 C919 127 918.3 119 917.4 110.7 C916.3 107.5 915.2 104.5 914 101.4Z" fill="url(#dend)"/>
<path d="M993 105 C996 106 999.5 106.5 1003 106.7 C1006 106.3 1009.5 105.7 1012.2 104.7 C1014 103.5 1015.6 102.2 1016.9 100.7 C1016.6 103.3 1015.9 105.7 1014.9 108 C1013.4 110.5 1011.3 112.6 1009.6 114.7 C1009 118 1009 122 1009.6 125.4 C1010.2 129 1011.1 132.6 1012.2 136.1 C1013.8 141 1016 146 1017.6 150.8 C1016.6 154.6 1015 158.2 1013.6 161.5 L1013.6 167 L996 167 L996 120 C995 115 994 110 993 105Z" fill="url(#dend)"/>
<path d="M825.1 65.7C825.0 69.1 825.5 71.6 823.1 74.1C820.7 76.7 816.3 79.1 812.6 79.1C808.9 79.0 806.2 76.3 803.7 73.9C801.3 71.5 800.0 70.1 799.9 66.5C799.8 63.0 800.4 58.0 803.0 55.4C805.7 52.9 809.7 53.0 813.6 53.3C817.5 53.5 821.3 54.2 823.5 56.6C825.7 59.0 825.2 62.4 825.1 65.7Z" fill="url(#gy)"/>
<circle cx="859.79" cy="43.68" r="18.05" fill="#2b2820" opacity="0.68"/><circle cx="861.50" cy="41.70" r="18.00" fill="url(#gr)"/>
<path d="M863.5 65.2C863.7 67.9 863.8 69.6 862.3 71.3C860.8 73.1 858.2 74.3 855.7 74.3C853.1 74.3 850.9 73.1 849.1 71.4C847.4 69.7 846.5 68.0 846.6 65.3C846.6 62.7 847.9 59.5 849.3 57.6C850.8 55.7 851.9 55.6 854.2 55.5C856.5 55.4 859.6 55.3 861.4 57.2C863.2 59.0 863.3 62.4 863.5 65.2Z" fill="url(#gy)"/>
<circle cx="962.29" cy="58.98" r="18.05" fill="#2b2820" opacity="0.68"/><circle cx="964.00" cy="57.00" r="18.00" fill="url(#gr2)"/>
<path d="M989.5 61.8C989.6 64.4 988.7 68.1 987.3 69.9C985.9 71.7 984.2 71.4 982.3 71.2C980.4 70.9 978.7 70.3 977.4 68.5C976.2 66.7 975.6 64.1 975.7 62.0C975.8 59.8 976.5 58.7 977.8 57.2C979.2 55.7 980.9 54.3 982.6 54.2C984.3 54.0 985.4 55.1 986.8 56.6C988.1 58.0 989.3 59.3 989.5 61.8Z" fill="url(#gy)"/>
<circle cx="794.29" cy="80.73" r="18.05" fill="#2b2820" opacity="0.68"/><circle cx="796.00" cy="78.75" r="18.00" fill="url(#gr)"/>
<circle cx="835.04" cy="80.73" r="18.05" fill="#2b2820" opacity="0.68"/><circle cx="836.75" cy="78.75" r="18.00" fill="url(#gr)"/>
<circle cx="875.04" cy="81.98" r="18.05" fill="#2b2820" opacity="0.68"/><circle cx="876.75" cy="80.00" r="18.00" fill="url(#gr)"/>
<circle cx="908.79" cy="79.48" r="18.05" fill="#2b2820" opacity="0.68"/><circle cx="910.50" cy="77.50" r="18.00" fill="url(#gr)"/>
<path d="M946.9 83.7C946.9 85.8 946.0 88.4 944.2 90.0C942.4 91.6 940.2 92.0 937.7 91.9C935.2 91.8 932.5 90.8 931.0 89.4C929.5 87.9 929.5 86.5 929.8 84.4C930.1 82.4 930.9 80.3 932.7 78.8C934.5 77.2 937.1 76.3 939.3 76.4C941.5 76.4 942.6 77.7 944.1 79.2C945.5 80.6 946.8 81.6 946.9 83.7Z" fill="url(#gy)"/>
<circle cx="962.54" cy="79.98" r="18.05" fill="#2b2820" opacity="0.68"/><circle cx="964.25" cy="78.00" r="18.00" fill="url(#gr)"/>
<circle cx="1000.54" cy="79.48" r="18.05" fill="#2b2820" opacity="0.68"/><circle cx="1002.25" cy="77.50" r="18.00" fill="url(#gr)"/>
<path d="M924.1 48.1C923.8 51.5 920.3 53.9 917.3 56.1C914.2 58.4 912.0 59.8 908.5 59.9C904.9 60.0 901.0 59.2 898.8 56.6C896.5 54.0 896.6 50.0 896.9 46.6C897.1 43.1 897.9 41.3 900.0 38.8C902.1 36.3 904.2 33.8 907.9 33.7C911.6 33.7 916.2 35.6 919.3 38.3C922.4 41.1 924.5 44.7 924.1 48.1Z" fill="url(#gy)"/>
<circle cx="794.29" cy="42.73" r="18.05" fill="#2b2820" opacity="0.68"/><circle cx="796.00" cy="40.75" r="18.00" fill="url(#gr)"/>
<circle cx="828.79" cy="46.98" r="18.05" fill="#2b2820" opacity="0.68"/><circle cx="830.50" cy="45.00" r="18.00" fill="url(#gr)"/>
<circle cx="882.54" cy="48.23" r="18.05" fill="#2b2820" opacity="0.68"/><circle cx="884.25" cy="46.25" r="18.00" fill="url(#gr)"/>
<circle cx="938.79" cy="44.48" r="18.05" fill="#2b2820" opacity="0.68"/><circle cx="940.50" cy="42.50" r="18.00" fill="url(#gr)"/>
<path d="M969.9 46.9C970.0 49.0 969.3 50.5 967.7 51.7C966.1 53.0 963.9 53.5 961.5 53.4C959.0 53.3 956.7 52.5 955.0 51.1C953.3 49.8 952.6 48.3 952.6 46.4C952.5 44.6 952.9 42.8 954.7 41.5C956.6 40.2 959.8 39.8 962.2 39.7C964.5 39.5 965.5 39.4 967.0 40.8C968.5 42.2 969.8 44.8 969.9 46.9Z" fill="url(#gy)"/>
<circle cx="983.79" cy="41.98" r="18.05" fill="#2b2820" opacity="0.68"/><circle cx="985.50" cy="40.00" r="18.00" fill="url(#gr)"/>
<circle cx="1000.54" cy="51.98" r="18.05" fill="#2b2820" opacity="0.68"/><circle cx="1002.25" cy="50.00" r="18.00" fill="url(#gr)"/>
<circle cx="928.79" cy="63.98" r="18.05" fill="#2b2820" opacity="0.68"/><circle cx="930.50" cy="62.00" r="18.00" fill="url(#gr)"/>
<path d="M799.2 108.5C799.3 111.1 797.1 112.6 795.3 114.2C793.4 115.9 792.0 117.0 789.6 117.1C787.2 117.1 784.8 116.4 783.0 114.6C781.1 112.8 780.2 110.2 780.1 107.6C780.0 105.0 780.6 102.9 782.5 101.0C784.3 99.0 787.2 97.7 789.6 97.6C792.0 97.5 793.1 98.3 795.0 100.4C796.8 102.5 799.2 105.8 799.2 108.5Z" fill="url(#gy)"/>
<path d="M826.1 106.0C826.2 108.7 824.9 111.6 822.8 113.5C820.6 115.3 817.4 115.7 814.8 115.5C812.3 115.4 811.1 114.5 809.4 112.8C807.7 111.0 806.0 109.0 805.9 106.5C805.7 104.0 806.9 101.8 808.8 99.9C810.7 98.0 813.4 96.9 815.9 96.8C818.4 96.7 819.9 97.6 821.9 99.3C823.9 101.1 825.9 103.2 826.1 106.0Z" fill="url(#gy)"/>
<path d="M847.5 107.3C847.5 109.9 846.6 112.5 845.2 114.2C843.8 115.8 842.2 116.0 840.0 115.8C837.9 115.6 835.6 114.6 833.9 113.1C832.3 111.7 831.3 110.5 831.4 108.1C831.5 105.8 833.2 102.7 834.5 101.0C835.9 99.3 836.5 99.5 838.6 99.4C840.6 99.4 843.5 99.2 845.2 100.7C846.9 102.2 847.5 104.7 847.5 107.3Z" fill="url(#gy)"/>
<path d="M872.5 114.4C872.6 117.7 871.5 120.4 869.9 122.3C868.3 124.2 866.5 124.5 864.2 124.2C862.0 123.8 859.9 122.5 858.3 120.5C856.7 118.5 856.0 116.4 856.2 113.8C856.3 111.2 857.4 108.9 858.9 106.8C860.4 104.6 861.8 102.8 863.9 102.6C866.0 102.3 868.1 103.2 869.8 105.5C871.5 107.8 872.5 111.2 872.5 114.4Z" fill="url(#gy)"/>
<path d="M887.7 105.4C887.7 107.1 887.4 107.9 885.7 109.1C884.1 110.3 881.3 111.6 879.2 111.7C877.1 111.9 876.3 111.2 875.0 109.9C873.6 108.6 872.4 106.8 872.2 105.0C872.1 103.2 873.1 102.1 874.4 100.7C875.7 99.3 876.9 97.8 879.1 97.8C881.2 97.7 883.9 98.9 885.5 100.4C887.2 101.9 887.6 103.8 887.7 105.4Z" fill="url(#gy)"/>
<path d="M913.4 103.4C913.5 105.2 913.0 107.7 911.5 108.9C910.0 110.1 907.6 109.8 905.6 109.8C903.6 109.9 902.5 110.1 901.1 109.0C899.6 107.9 898.3 106.1 898.1 104.0C897.9 102.0 898.8 99.7 900.1 98.4C901.5 97.1 903.1 97.1 905.2 97.2C907.3 97.4 909.4 98.0 911.0 99.2C912.6 100.4 913.3 101.5 913.4 103.4Z" fill="url(#gy)"/>
<path d="M954.6 105.7C954.7 108.0 954.6 110.6 953.0 112.1C951.4 113.7 948.8 113.9 946.3 113.8C943.8 113.7 941.7 113.1 940.0 111.7C938.2 110.3 937.2 108.7 937.2 106.5C937.3 104.3 938.6 101.9 940.2 100.3C941.7 98.7 942.8 98.1 945.2 98.1C947.6 98.1 950.7 98.7 952.5 100.1C954.4 101.6 954.5 103.4 954.6 105.7Z" fill="url(#gy)"/>
<path d="M984.8 105.6C984.9 107.7 983.7 110.5 982.0 112.1C980.4 113.8 978.7 114.1 976.3 114.1C973.8 114.1 971.2 113.7 969.3 112.0C967.4 110.3 966.4 107.5 966.3 105.2C966.2 102.9 967.0 101.7 968.7 100.2C970.5 98.7 973.0 97.3 975.5 97.5C977.9 97.7 979.7 99.5 981.5 101.1C983.3 102.7 984.7 103.5 984.8 105.6Z" fill="url(#gy)"/>
<path d="M1009.4 101.6C1009.4 102.8 1009.4 104.4 1008.1 105.4C1006.8 106.3 1004.5 106.7 1002.5 106.6C1000.6 106.5 999.2 105.6 998.0 104.8C996.7 104.0 996.0 103.6 996.2 102.4C996.4 101.3 997.5 99.6 998.9 98.7C1000.2 97.8 1001.4 97.7 1003.2 97.7C1005.1 97.7 1007.1 98.0 1008.3 98.8C1009.5 99.5 1009.5 100.3 1009.4 101.6Z" fill="url(#gy)"/>
<path d="M1021.8 115.5C1022.0 117.8 1021.4 120.5 1020.3 122.4C1019.2 124.4 1017.7 125.5 1015.9 125.5C1014.0 125.6 1012.0 124.6 1010.7 122.7C1009.4 120.8 1009.3 118.1 1009.3 115.7C1009.2 113.4 1009.3 111.9 1010.6 110.4C1011.9 108.9 1014.2 108.0 1015.9 108.0C1017.6 108.0 1018.3 108.9 1019.4 110.4C1020.6 111.8 1021.6 113.2 1021.8 115.5Z" fill="url(#gy)"/>
<path d="M812.3 119.5C812.1 121.8 811.1 123.7 809.6 125.3C808.1 126.8 807.2 127.8 804.5 127.7C801.9 127.7 797.9 126.8 795.7 125.1C793.6 123.4 793.1 121.2 793.5 118.8C793.9 116.4 795.9 114.3 797.6 112.7C799.4 111.2 800.1 110.5 802.5 110.6C805.0 110.8 808.5 111.9 810.4 113.6C812.2 115.3 812.4 117.3 812.3 119.5Z" fill="url(#gy)"/>
<path d="M837.3 120.3C837.2 122.9 836.1 126.0 834.1 127.6C832.0 129.3 829.6 128.8 826.6 128.8C823.6 128.8 820.8 129.3 818.4 127.6C816.0 125.9 814.1 122.5 814.0 119.9C813.9 117.3 815.3 115.5 817.7 113.9C820.1 112.2 823.3 111.3 826.6 111.4C829.8 111.4 832.6 112.4 834.7 114.1C836.7 115.8 837.4 117.7 837.3 120.3Z" fill="url(#gy)"/>
<path d="M857.7 120.7C857.6 123.3 856.1 124.7 854.1 126.3C852.2 127.9 849.7 129.0 847.5 128.9C845.2 128.8 843.9 127.5 842.3 125.9C840.7 124.2 839.2 122.7 839.2 120.3C839.3 117.9 840.8 115.1 842.5 113.4C844.2 111.6 845.8 111.2 848.1 111.1C850.4 111.0 852.7 110.9 854.5 112.7C856.3 114.5 857.7 118.0 857.7 120.7Z" fill="url(#gy)"/>
<path d="M900.9 117.3C900.8 120.1 898.8 122.9 896.6 124.8C894.4 126.7 892.3 127.3 889.5 127.2C886.6 127.1 883.8 125.7 881.7 124.0C879.6 122.4 878.2 121.2 878.5 118.6C878.8 116.0 881.0 112.5 883.4 110.5C885.8 108.5 888.3 108.2 890.9 108.1C893.5 108.1 894.8 108.5 896.7 110.2C898.6 112.0 900.9 114.5 900.9 117.3Z" fill="url(#gy)"/>
<path d="M921.1 117.9C921.1 121.1 919.4 125.5 917.3 128.0C915.2 130.4 913.0 130.8 910.3 130.7C907.5 130.7 905.0 129.8 902.9 127.8C900.8 125.7 899.4 123.4 899.4 120.0C899.5 116.7 901.2 112.4 903.2 110.2C905.2 108.0 907.1 108.4 909.8 108.6C912.5 108.8 915.1 109.6 917.3 111.4C919.4 113.2 921.1 114.7 921.1 117.9Z" fill="url(#gy)"/>
<path d="M969.9 118.0C969.7 121.0 968.5 124.5 966.5 126.4C964.6 128.3 962.7 127.9 959.8 127.9C956.9 127.9 953.6 128.0 951.3 126.4C949.0 124.8 947.9 122.4 947.9 119.5C947.8 116.7 949.0 113.5 951.1 111.6C953.2 109.6 955.5 109.4 958.7 109.3C961.8 109.2 965.3 109.4 967.4 111.1C969.6 112.8 970.0 115.1 969.9 118.0Z" fill="url(#gy)"/>
<path d="M981.3 124.8C980.9 126.5 979.6 128.8 978.3 130.1C977.0 131.4 976.2 131.4 974.6 131.4C972.9 131.5 971.2 131.5 969.7 130.4C968.2 129.4 967.0 127.6 966.9 125.9C966.9 124.2 968.2 123.0 969.6 121.7C970.9 120.4 972.1 119.2 974.1 119.1C976.2 119.1 978.7 120.3 980.0 121.3C981.4 122.4 981.6 123.1 981.3 124.8Z" fill="url(#gy)"/>
<path d="M998.9 119.3C998.7 122.2 997.8 124.4 996.2 126.5C994.6 128.6 993.1 129.9 990.6 130.1C988.1 130.2 984.9 129.7 983.1 127.4C981.3 125.1 981.3 121.5 981.2 118.2C981.1 115.0 981.0 112.6 982.6 110.7C984.2 108.8 986.6 108.1 989.4 108.2C992.3 108.3 995.5 109.1 997.3 111.2C999.1 113.3 999.1 116.4 998.9 119.3Z" fill="url(#gy)"/>
<path d="M802.2 135.1C802.2 137.8 800.8 139.9 798.7 142.0C796.6 144.1 794.2 145.8 791.1 145.9C788.0 146.1 784.9 144.8 782.6 142.7C780.4 140.7 779.4 138.1 779.4 135.1C779.5 132.0 780.5 129.1 782.9 126.8C785.2 124.5 788.7 122.9 791.7 123.1C794.7 123.4 796.4 125.8 798.5 128.1C800.5 130.4 802.1 132.5 802.2 135.1Z" fill="url(#gy)"/>
<path d="M823.7 139.4C823.8 143.0 822.8 146.2 820.6 148.4C818.3 150.5 815.4 150.7 812.0 150.5C808.5 150.4 805.2 150.1 802.6 147.7C800.0 145.2 798.3 141.1 798.4 137.6C798.4 134.1 800.8 131.5 803.0 129.5C805.2 127.4 806.4 127.0 809.7 127.0C812.9 126.9 817.2 126.9 819.9 129.3C822.6 131.6 823.6 135.7 823.7 139.4Z" fill="url(#gy)"/>
<path d="M843.7 140.0C843.8 143.3 843.1 146.8 841.3 149.2C839.5 151.7 836.9 152.7 834.4 152.9C831.9 153.1 830.0 152.5 828.1 150.3C826.3 148.0 824.8 144.9 824.8 141.1C824.7 137.4 826.2 133.5 827.9 130.7C829.5 128.0 830.8 126.4 833.3 126.7C835.7 126.9 838.8 129.6 840.8 132.2C842.8 134.7 843.5 136.7 843.7 140.0Z" fill="url(#gy)"/>
<path d="M864.1 136.1C864.3 138.8 863.9 141.4 862.2 143.3C860.6 145.2 857.8 146.4 855.4 146.2C853.1 146.0 851.3 144.1 849.8 142.3C848.4 140.5 847.6 139.4 847.7 137.0C847.7 134.5 848.8 131.4 850.3 129.4C851.7 127.5 853.1 126.8 855.3 126.9C857.4 126.9 859.6 127.7 861.3 129.5C863.0 131.3 864.0 133.5 864.1 136.1Z" fill="url(#gy)"/>
<path d="M885.5 129.3C885.6 132.6 884.4 135.9 882.5 138.5C880.7 141.1 878.2 142.9 875.8 142.7C873.4 142.5 871.6 139.9 869.9 137.3C868.2 134.8 867.2 132.7 867.0 129.6C866.7 126.5 866.9 123.8 868.6 121.3C870.2 118.7 872.9 116.2 875.5 116.1C878.1 116.1 880.3 118.5 882.2 121.0C884.1 123.5 885.5 125.9 885.5 129.3Z" fill="url(#gy)" transform="rotate(-30 876.0 129.5)"/>
<path d="M909.8 141.3C909.5 144.6 908.4 148.1 906.5 150.7C904.6 153.3 903.0 154.9 899.9 154.8C896.7 154.8 892.6 152.7 890.1 150.4C887.6 148.1 886.7 146.1 886.9 142.8C887.1 139.5 889.0 135.6 891.2 133.2C893.4 130.8 895.2 130.2 898.4 130.3C901.7 130.4 906.1 131.5 908.3 133.6C910.5 135.7 910.1 138.1 909.8 141.3Z" fill="url(#gy)"/>
<path d="M924.0 133.6C923.7 136.0 922.6 139.1 921.1 140.8C919.6 142.6 918.1 142.8 916.2 142.8C914.2 142.8 912.4 142.3 911.1 140.8C909.8 139.3 909.4 137.3 909.5 134.9C909.6 132.5 910.2 130.1 911.7 128.3C913.2 126.5 915.3 125.5 917.4 125.6C919.5 125.7 921.4 127.2 922.6 128.7C923.9 130.3 924.3 131.3 924.0 133.6Z" fill="url(#gy)"/>
<path d="M965.9 144.7C965.8 148.9 964.8 154.1 962.4 156.7C960.0 159.3 956.8 158.6 953.5 158.2C950.2 157.8 947.5 157.5 945.3 154.8C943.2 152.1 942.5 147.7 942.5 144.0C942.6 140.2 943.4 137.7 945.5 135.2C947.7 132.7 950.5 130.9 953.9 130.9C957.3 130.9 960.8 132.3 963.2 135.0C965.5 137.6 966.1 140.6 965.9 144.7Z" fill="url(#gy)"/>
<path d="M981.2 138.0C981.1 139.9 980.2 142.0 978.2 143.7C976.3 145.3 973.7 146.5 971.0 146.6C968.2 146.6 965.8 145.6 964.1 144.0C962.3 142.3 962.0 140.1 961.9 138.0C961.8 136.0 961.8 134.8 963.7 133.4C965.6 132.1 969.0 131.0 971.9 131.1C974.8 131.1 977.0 132.4 978.7 133.7C980.5 135.0 981.3 136.1 981.2 138.0Z" fill="url(#gy)"/>
<path d="M1004.2 137.3C1004.0 140.3 1001.9 142.8 999.9 145.1C997.9 147.3 996.0 148.6 993.8 148.9C991.5 149.2 989.8 148.8 988.0 146.4C986.2 144.0 984.4 139.7 984.5 136.5C984.6 133.3 986.5 131.6 988.4 129.8C990.3 128.0 992.0 127.3 994.4 127.2C996.7 127.1 998.8 127.4 1000.7 129.4C1002.6 131.3 1004.3 134.2 1004.2 137.3Z" fill="url(#gy)"/>
<path d="M1020.3 136.4C1020.4 138.0 1020.0 139.3 1019.3 140.5C1018.6 141.7 1017.7 142.7 1016.6 142.7C1015.5 142.7 1014.3 141.6 1013.6 140.5C1013.0 139.3 1013.2 138.3 1013.3 136.7C1013.3 135.1 1013.3 133.4 1014.0 132.2C1014.7 131.0 1016.0 130.6 1017.0 130.6C1017.9 130.6 1018.4 130.9 1019.1 132.1C1019.7 133.2 1020.3 134.7 1020.3 136.4Z" fill="url(#gy)"/>
<path d="M800.3 155.3C800.5 158.3 799.8 161.7 798.1 164.1C796.4 166.5 794.1 168.0 791.5 167.9C788.8 167.8 786.1 166.1 784.3 163.8C782.6 161.6 782.1 158.9 782.3 156.1C782.5 153.3 783.4 151.5 785.2 149.4C786.9 147.3 789.2 145.4 791.5 145.2C793.9 144.9 795.7 146.2 797.4 148.2C799.1 150.1 800.2 152.2 800.3 155.3Z" fill="url(#gy)"/>
<path d="M823.5 158.9C823.6 160.7 822.4 161.6 820.5 162.8C818.6 163.9 816.1 164.7 813.4 164.9C810.8 165.0 808.6 164.9 806.8 163.6C805.0 162.2 804.1 159.6 804.0 157.8C803.9 156.0 804.3 155.4 806.3 154.2C808.4 152.9 812.0 151.3 814.5 151.2C817.1 151.1 818.1 152.0 819.8 153.5C821.5 155.0 823.3 157.2 823.5 158.9Z" fill="url(#gy)"/>
<path d="M839.4 152.6C839.6 155.0 839.3 156.4 837.6 157.9C836.0 159.5 833.2 160.8 830.9 160.8C828.5 160.7 826.8 159.3 825.3 157.7C823.9 156.1 823.2 154.6 823.2 152.5C823.2 150.3 823.6 148.1 825.3 146.4C827.0 144.6 829.8 143.7 832.0 143.5C834.3 143.4 835.5 143.8 837.0 145.6C838.4 147.3 839.3 150.2 839.4 152.6Z" fill="url(#gy)"/>
<path d="M863.4 152.2C863.4 154.8 862.2 156.7 860.1 158.4C857.9 160.1 855.0 161.2 852.1 161.0C849.3 160.8 847.1 159.0 845.1 157.3C843.2 155.6 841.8 154.7 842.1 152.1C842.3 149.5 844.5 145.8 846.4 143.8C848.4 141.8 849.4 141.6 852.1 141.8C854.8 142.0 858.1 142.6 860.3 144.6C862.5 146.6 863.5 149.5 863.4 152.2Z" fill="url(#gy)"/>
<path d="M888.8 147.8C888.8 149.8 887.9 151.4 886.1 152.8C884.2 154.1 881.4 154.9 879.3 154.9C877.2 155.0 876.7 154.6 875.1 153.1C873.6 151.5 871.6 149.1 871.3 146.9C871.1 144.8 871.9 143.2 873.7 141.7C875.5 140.1 878.4 138.7 880.7 138.9C883.0 139.0 884.3 140.7 885.8 142.4C887.4 144.1 888.7 145.8 888.8 147.8Z" fill="url(#gy)"/>
<path d="M917.5 156.5C917.5 158.8 916.1 159.3 914.2 160.7C912.3 162.1 909.5 163.8 907.5 163.9C905.4 164.0 904.9 162.8 903.3 161.3C901.8 159.8 899.3 158.3 899.2 155.9C899.1 153.5 901.0 150.5 902.9 149.0C904.7 147.5 906.6 148.0 908.8 148.0C911.0 148.0 912.6 147.4 914.2 149.1C915.9 150.7 917.5 154.3 917.5 156.5Z" fill="url(#gy)"/>
<path d="M933.1 151.9C932.8 155.3 931.7 158.5 929.9 160.9C928.1 163.2 926.0 164.1 923.7 164.1C921.5 164.1 919.7 163.2 918.1 161.1C916.4 158.9 915.3 156.2 915.1 152.8C915.0 149.4 915.7 145.8 917.5 143.2C919.2 140.7 921.5 139.7 924.1 139.7C926.7 139.7 929.3 140.8 931.0 143.2C932.7 145.5 933.3 148.5 933.1 151.9Z" fill="url(#gy)"/>
<path d="M984.1 148.3C983.8 151.0 982.6 155.1 980.6 157.3C978.5 159.4 976.1 159.6 973.6 159.4C971.1 159.1 969.5 158.0 967.6 156.0C965.8 153.9 964.1 151.1 963.9 148.6C963.7 146.1 964.4 144.8 966.4 142.9C968.3 141.0 971.0 138.7 974.0 138.7C977.0 138.8 980.0 141.5 982.0 143.3C983.9 145.2 984.4 145.7 984.1 148.3Z" fill="url(#gy)"/>
<path d="M1004.9 154.3C1004.9 156.4 1003.9 159.1 1002.3 160.6C1000.7 162.0 999.0 162.0 996.6 161.9C994.2 161.7 991.6 161.1 989.8 159.8C988.1 158.4 987.5 156.9 987.5 154.9C987.5 152.9 988.3 150.7 989.9 149.4C991.4 148.0 993.2 147.9 995.6 148.0C998.0 148.1 1000.5 148.6 1002.3 149.8C1004.1 151.0 1004.9 152.3 1004.9 154.3Z" fill="url(#gy)"/>
<path d="M785.50 86.25V97.25" stroke="#0a0a0a" stroke-width="1.6" fill="none"/><path d="M782.40 95.65L785.50 101.25L788.60 95.65L785.50 96.85Z" fill="#0a0a0a"/>
<path d="M806.00 95.00V106.50" stroke="#0a0a0a" stroke-width="1.6" fill="none"/><path d="M802.90 104.90L806.00 110.50L809.10 104.90L806.00 106.10Z" fill="#0a0a0a"/>
<path d="M826.25 104.50V116.00" stroke="#0a0a0a" stroke-width="1.6" fill="none"/><path d="M823.15 114.40L826.25 120.00L829.35 114.40L826.25 115.60Z" fill="#0a0a0a"/>
<path d="M846.75 112.00V123.00" stroke="#0a0a0a" stroke-width="1.6" fill="none"/><path d="M843.65 121.40L846.75 127.00L849.85 121.40L846.75 122.60Z" fill="#0a0a0a"/>
<path d="M867.25 125.00V136.00" stroke="#0a0a0a" stroke-width="1.6" fill="none"/><path d="M864.15 134.40L867.25 140.00L870.35 134.40L867.25 135.60Z" fill="#0a0a0a"/>
<path d="M888.00 133.75V145.50" stroke="#0a0a0a" stroke-width="1.6" fill="none"/><path d="M884.90 143.90L888.00 149.50L891.10 143.90L888.00 145.10Z" fill="#0a0a0a"/>
<path d="M908.00 133.75V145.50" stroke="#0a0a0a" stroke-width="1.6" fill="none"/><path d="M904.90 143.90L908.00 149.50L911.10 143.90L908.00 145.10Z" fill="#0a0a0a"/>
<path d="M928.75 125.00V136.50" stroke="#0a0a0a" stroke-width="1.6" fill="none"/><path d="M925.65 134.90L928.75 140.50L931.85 134.90L928.75 136.10Z" fill="#0a0a0a"/>
<path d="M949.00 112.00V123.50" stroke="#0a0a0a" stroke-width="1.6" fill="none"/><path d="M945.90 121.90L949.00 127.50L952.10 121.90L949.00 123.10Z" fill="#0a0a0a"/>
<path d="M969.75 104.50V116.00" stroke="#0a0a0a" stroke-width="1.6" fill="none"/><path d="M966.65 114.40L969.75 120.00L972.85 114.40L969.75 115.60Z" fill="#0a0a0a"/>
<path d="M990.00 95.00V106.50" stroke="#0a0a0a" stroke-width="1.6" fill="none"/><path d="M986.90 104.90L990.00 110.50L993.10 104.90L990.00 106.10Z" fill="#0a0a0a"/>
<path d="M1010.00 86.25V97.25" stroke="#0a0a0a" stroke-width="1.6" fill="none"/><path d="M1006.90 95.65L1010.00 101.25L1013.10 95.65L1010.00 96.85Z" fill="#0a0a0a"/>
</g>
<path d="M778.2 23.5V196.6H1021V23.5" fill="none" stroke="#878e99" stroke-width="2"/>
<defs><linearGradient id="wl" x1="0" y1="0" x2="1" y2="0"><stop offset="0" stop-color="#fdf5f6"/><stop offset="1" stop-color="#fefafa"/></linearGradient><linearGradient id="wr" x1="0" y1="0" x2="1" y2="0"><stop offset="0" stop-color="#eef4fa"/><stop offset="1" stop-color="#f2f7fb"/></linearGradient></defs>
<polygon points="60.75,282.50 213.25,248.75 217.00,422.00 77.00,499.50" fill="url(#wl)" stroke="none" stroke-width="1"/>
<polygon points="213.25,248.75 410.00,260.75 403.40,454.40 217.00,422.00" fill="url(#wr)" stroke="none" stroke-width="1"/>
<polygon points="77.00,499.50 217.00,422.00 403.40,454.40 298.00,554.75" fill="#f5f4f9" stroke="none" stroke-width="1"/>
<line x1="279.63" y1="432.89" x2="151.26" y2="518.06" stroke="#c9c9cd" stroke-width="0.8" />
<line x1="320.08" y1="439.92" x2="199.21" y2="530.05" stroke="#c9c9cd" stroke-width="0.8" />
<line x1="350.09" y1="445.13" x2="234.79" y2="538.95" stroke="#c9c9cd" stroke-width="0.8" />
<line x1="373.95" y1="449.28" x2="263.08" y2="546.02" stroke="#c9c9cd" stroke-width="0.8" />
<line x1="395.38" y1="453.01" x2="288.50" y2="552.37" stroke="#c9c9cd" stroke-width="0.8" />
<line x1="196.28" y1="433.47" x2="387.80" y2="469.25" stroke="#c9c9cd" stroke-width="0.8" />
<line x1="175.84" y1="444.79" x2="372.41" y2="483.90" stroke="#c9c9cd" stroke-width="0.8" />
<line x1="137.34" y1="466.10" x2="343.43" y2="511.50" stroke="#c9c9cd" stroke-width="0.8" />
<line x1="107.80" y1="482.45" x2="321.19" y2="532.67" stroke="#c9c9cd" stroke-width="0.8" />
<line x1="60.75" y1="282.50" x2="213.25" y2="248.75" stroke="#3a3a3a" stroke-width="1" />
<line x1="213.25" y1="248.75" x2="410.00" y2="260.75" stroke="#3a3a3a" stroke-width="1" />
<line x1="60.75" y1="282.50" x2="77.00" y2="499.50" stroke="#3a3a3a" stroke-width="1" />
<line x1="213.25" y1="248.75" x2="217.00" y2="422.00" stroke="#555" stroke-width="1" />
<line x1="410.00" y1="260.75" x2="403.40" y2="454.40" stroke="#3a3a3a" stroke-width="1" />
<line x1="217.00" y1="422.00" x2="403.40" y2="454.40" stroke="#3a3a3a" stroke-width="1" />
<line x1="217.00" y1="422.00" x2="77.00" y2="499.50" stroke="#3a3a3a" stroke-width="1" />
<line x1="77.00" y1="499.50" x2="298.00" y2="554.75" stroke="#3a3a3a" stroke-width="1.1" />
<line x1="403.40" y1="454.40" x2="298.00" y2="554.75" stroke="#3a3a3a" stroke-width="1.1" />
<line x1="77.00" y1="499.50" x2="73.74" y2="502.60" stroke="#3a3a3a" stroke-width="1" />
<line x1="151.26" y1="518.06" x2="148.00" y2="521.17" stroke="#3a3a3a" stroke-width="1" />
<line x1="199.21" y1="530.05" x2="195.95" y2="533.16" stroke="#3a3a3a" stroke-width="1" />
<line x1="234.79" y1="538.95" x2="231.53" y2="542.05" stroke="#3a3a3a" stroke-width="1" />
<line x1="263.08" y1="546.02" x2="259.82" y2="549.12" stroke="#3a3a3a" stroke-width="1" />
<line x1="288.50" y1="552.37" x2="285.24" y2="555.48" stroke="#3a3a3a" stroke-width="1" />
<line x1="118.55" y1="509.89" x2="116.52" y2="511.82" stroke="#3a3a3a" stroke-width="1" />
<line x1="175.12" y1="524.03" x2="173.10" y2="525.96" stroke="#3a3a3a" stroke-width="1" />
<line x1="217.11" y1="534.53" x2="215.09" y2="536.46" stroke="#3a3a3a" stroke-width="1" />
<line x1="249.38" y1="542.60" x2="247.35" y2="544.53" stroke="#3a3a3a" stroke-width="1" />
<line x1="275.90" y1="549.23" x2="273.87" y2="551.16" stroke="#3a3a3a" stroke-width="1" />
<line x1="403.40" y1="454.40" x2="407.77" y2="455.49" stroke="#3a3a3a" stroke-width="1" />
<line x1="387.80" y1="469.25" x2="392.17" y2="470.34" stroke="#3a3a3a" stroke-width="1" />
<line x1="372.41" y1="483.90" x2="376.78" y2="484.99" stroke="#3a3a3a" stroke-width="1" />
<line x1="343.43" y1="511.50" x2="347.79" y2="512.59" stroke="#3a3a3a" stroke-width="1" />
<line x1="321.19" y1="532.67" x2="325.55" y2="533.76" stroke="#3a3a3a" stroke-width="1" />
<line x1="395.50" y1="461.93" x2="398.21" y2="462.61" stroke="#3a3a3a" stroke-width="1" />
<line x1="380.21" y1="476.48" x2="382.93" y2="477.16" stroke="#3a3a3a" stroke-width="1" />
<line x1="358.08" y1="497.55" x2="360.79" y2="498.23" stroke="#3a3a3a" stroke-width="1" />
<line x1="331.73" y1="522.64" x2="334.44" y2="523.32" stroke="#3a3a3a" stroke-width="1" />
<line x1="309.59" y1="543.71" x2="312.31" y2="544.39" stroke="#3a3a3a" stroke-width="1" />
<line x1="409.51" y1="275.00" x2="414.51" y2="274.20" stroke="#3a3a3a" stroke-width="1" />
<line x1="407.52" y1="333.50" x2="412.52" y2="332.70" stroke="#3a3a3a" stroke-width="1" />
<line x1="405.59" y1="390.20" x2="410.59" y2="389.40" stroke="#3a3a3a" stroke-width="1" />
<line x1="403.79" y1="443.00" x2="408.79" y2="442.20" stroke="#3a3a3a" stroke-width="1" />
<line x1="408.55" y1="303.40" x2="411.55" y2="302.90" stroke="#3a3a3a" stroke-width="1" />
<line x1="406.55" y1="361.90" x2="409.55" y2="361.40" stroke="#3a3a3a" stroke-width="1" />
<line x1="404.73" y1="415.30" x2="407.73" y2="414.80" stroke="#3a3a3a" stroke-width="1" />
<text transform="translate(419.2 282.0) rotate(2) skewX(-4)" font-size="16.5" fill="#0a0a0a" stroke="#0a0a0a" stroke-width="0.25" text-anchor="start">0</text>
<text transform="translate(415.6 340.8) rotate(3) skewX(-5)" font-size="16.5" fill="#0a0a0a" stroke="#0a0a0a" stroke-width="0.25" text-anchor="start">0.2</text>
<text transform="translate(413.4 397.0) rotate(4) skewX(-6)" font-size="16.5" fill="#0a0a0a" stroke="#0a0a0a" stroke-width="0.25" text-anchor="start">0.4</text>
<text transform="translate(410.6 448.6) rotate(5) skewX(-7)" font-size="16.5" fill="#0a0a0a" stroke="#0a0a0a" stroke-width="0.25" text-anchor="start">0.6</text>
<text transform="translate(404.6 465.4) rotate(9) skewX(-9)" font-size="13.2" fill="#0a0a0a" stroke="#0a0a0a" stroke-width="0.25" text-anchor="start">250</text>
<text transform="translate(390.2 480.2) rotate(9) skewX(-9)" font-size="13.2" fill="#0a0a0a" stroke="#0a0a0a" stroke-width="0.25" text-anchor="start">500</text>
<text transform="translate(373.4 495.4) rotate(9) skewX(-9)" font-size="13.2" fill="#0a0a0a" stroke="#0a0a0a" stroke-width="0.25" text-anchor="start">1000</text>
<text transform="translate(346.8 520.6) rotate(9) skewX(-9)" font-size="13.2" fill="#0a0a0a" stroke="#0a0a0a" stroke-width="0.25" text-anchor="start">2500</text>
<text transform="translate(328.4 541.4) rotate(9) skewX(-9)" font-size="13.2" fill="#0a0a0a" stroke="#0a0a0a" stroke-width="0.25" text-anchor="start">5000</text>
<text transform="translate(70.9 509.0) rotate(-36) skewX(8)" font-size="14" fill="#0a0a0a" stroke="#0a0a0a" stroke-width="0.25" text-anchor="middle">5</text>
<text transform="translate(146.3 530.9) rotate(-36) skewX(8)" font-size="14" fill="#0a0a0a" stroke="#0a0a0a" stroke-width="0.25" text-anchor="middle">10</text>
<text transform="translate(193.1 543.6) rotate(-36) skewX(8)" font-size="14" fill="#0a0a0a" stroke="#0a0a0a" stroke-width="0.25" text-anchor="middle">15</text>
<text transform="translate(227.9 553.9) rotate(-36) skewX(8)" font-size="14" fill="#0a0a0a" stroke="#0a0a0a" stroke-width="0.25" text-anchor="middle">20</text>
<text transform="translate(257.2 562.1) rotate(-36) skewX(8)" font-size="14" fill="#0a0a0a" stroke="#0a0a0a" stroke-width="0.25" text-anchor="middle">25</text>
<text transform="translate(283.6 567.6) rotate(-36) skewX(8)" font-size="14" fill="#0a0a0a" stroke="#0a0a0a" stroke-width="0.25" text-anchor="middle">30</text>
<text transform="translate(468.4 415.3) rotate(-90)" font-size="16.5" fill="#0a0a0a" stroke="#0a0a0a" stroke-width="0.2" textLength="132" lengthAdjust="spacingAndGlyphs">Redox potential (V)</text>
<text transform="translate(346 596.5) rotate(-47.6) skewX(-8)" font-size="15.8" fill="#0a0a0a" stroke="#0a0a0a" stroke-width="0.2" textLength="200.5" lengthAdjust="spacingAndGlyphs">Theoretical capacity (mAh g<tspan font-size="10" dy="-7">-1</tspan><tspan dy="7">)</tspan></text>
<text transform="translate(108 547) rotate(16.8) skewX(8)" font-size="17.5" fill="#0a0a0a" stroke="#0a0a0a" stroke-width="0.2" textLength="139" lengthAdjust="spacingAndGlyphs">DMT modulus (GPa)</text>
<line x1="125.30" y1="296.00" x2="135.50" y2="480.50" stroke="#eeb0b0" stroke-width="0.9" stroke-dasharray="4 1.5 1 1.5"/>
<line x1="155.30" y1="295.00" x2="163.20" y2="477.00" stroke="#777" stroke-width="0.9" stroke-dasharray="4 1.5 1 1.5"/>
<line x1="222.80" y1="300.00" x2="227.50" y2="484.50" stroke="#6f8fd0" stroke-width="0.9" stroke-dasharray="4 1.5 1 1.5"/>
<line x1="361.80" y1="392.00" x2="359.60" y2="487.00" stroke="#b7d3ea" stroke-width="0.9" stroke-dasharray="4 1.5 1 1.5"/>
<line x1="373.80" y1="445.00" x2="373.40" y2="452.00" stroke="#e3a0a0" stroke-width="0.8" stroke-dasharray="2 1.2"/>
<ellipse cx="135.5" cy="481.3" rx="5" ry="2" fill="#f1b6b6"/>
<ellipse cx="163.3" cy="477.8" rx="5" ry="2" fill="#6f6f6f"/>
<ellipse cx="227.6" cy="485.8" rx="5" ry="2.2" fill="#2f7fc2"/>
<ellipse cx="359.5" cy="487.9" rx="5" ry="1.8" fill="#b7d3ea"/>
<ellipse cx="373.3" cy="452.6" rx="4.5" ry="1.5" fill="#dc7f7f"/>
<defs>
<radialGradient id="sLi" cx="0.34" cy="0.3" r="0.8"><stop offset="0" stop-color="#fff"/><stop offset="0.14" stop-color="#fff"/><stop offset="0.34" stop-color="#e6bfc1"/><stop offset="0.62" stop-color="#cf9a9e"/><stop offset="1" stop-color="#9d6a6e"/></radialGradient>
<radialGradient id="sMg" cx="0.34" cy="0.3" r="0.8"><stop offset="0" stop-color="#fff"/><stop offset="0.1" stop-color="#f2f2f2"/><stop offset="0.3" stop-color="#a0a0a0"/><stop offset="0.6" stop-color="#616161"/><stop offset="1" stop-color="#333"/></radialGradient>
<radialGradient id="sAl" cx="0.34" cy="0.3" r="0.8"><stop offset="0" stop-color="#fff"/><stop offset="0.14" stop-color="#fff"/><stop offset="0.34" stop-color="#d3e1ec"/><stop offset="0.62" stop-color="#a5bed3"/><stop offset="1" stop-color="#64809a"/></radialGradient>
<radialGradient id="sIn" cx="0.34" cy="0.3" r="0.8"><stop offset="0" stop-color="#fff"/><stop offset="0.12" stop-color="#fbeaea"/><stop offset="0.32" stop-color="#d58e91"/><stop offset="0.62" stop-color="#b04a4f"/><stop offset="1" stop-color="#6e2529"/></radialGradient>
<radialGradient id="sTFA" cx="0.72" cy="0.46" r="0.8"><stop offset="0" stop-color="#f8f8fb"/><stop offset="0.15" stop-color="#eef0f7"/><stop offset="0.32" stop-color="#cbd2e7"/><stop offset="0.5" stop-color="#a0aed5"/><stop offset="0.72" stop-color="#8194c7"/><stop offset="0.9" stop-color="#6b7eb6"/><stop offset="1" stop-color="#5a6da6"/></radialGradient><radialGradient id="sTFArim" cx="0.5" cy="0.5" r="0.5"><stop offset="0" stop-color="#7f92c6" stop-opacity="0"/><stop offset="0.8" stop-color="#7f92c6" stop-opacity="0"/><stop offset="1" stop-color="#7286bd" stop-opacity="0.75"/></radialGradient>
</defs>
<circle cx="125.8" cy="290" r="6.8" fill="url(#sLi)"/>
<circle cx="155.2" cy="288.2" r="6.8" fill="url(#sMg)"/>
<circle cx="361.8" cy="385.6" r="6.5" fill="url(#sAl)"/>
<circle cx="373.8" cy="439.4" r="6" fill="url(#sIn)"/>
<circle cx="244.4" cy="310" r="48.8" fill="url(#sTFA)"/><circle cx="244.4" cy="310" r="48.8" fill="url(#sTFArim)"/>
<line x1="213.60" y1="262.00" x2="214.60" y2="358.00" stroke="#444" stroke-width="0.9" opacity="0.55"/>
<line x1="222.90" y1="308.00" x2="223.90" y2="352.00" stroke="#7d95cf" stroke-width="0.8" stroke-dasharray="4 1.5 1 1.5" opacity="0.7"/>
<polygon points="223.8,292.1 218.4,288.3 218.9,277.6" fill="#5f84cf"/><polygon points="223.8,292.1 225.8,285.8 218.9,277.6" fill="#ecdde3"/><polygon points="223.8,292.1 225.3,285.7 235.6,281.8" fill="#5f84cf"/><polygon points="223.8,292.1 230.4,291.5 235.6,281.8" fill="#ecdde3"/><polygon points="223.8,292.1 230.4,292.2 236.0,301.2" fill="#5f84cf"/><polygon points="223.8,292.1 225.8,298.4 236.0,301.2" fill="#ecdde3"/><polygon points="223.8,292.1 226.2,298.2 219.7,307.8" fill="#5f84cf"/><polygon points="223.8,292.1 218.7,296.3 219.7,307.8" fill="#ecdde3"/><polygon points="223.8,292.1 218.9,296.5 209.4,293.5" fill="#5f84cf"/><polygon points="223.8,292.1 218.1,288.8 209.4,293.5" fill="#ecdde3"/>
<text x="105.70" y="308.60" font-size="21.5" fill="#c98a8e" stroke="#c98a8e" stroke-width="0.22" font-weight="normal" textLength="12.10" lengthAdjust="spacingAndGlyphs" >Li</text>
<text x="144.90" y="313.60" font-size="21.5" fill="#8a8a8a" stroke="#8a8a8a" stroke-width="0.22" font-weight="normal" textLength="42.50" lengthAdjust="spacingAndGlyphs" >Li-Mg</text>
<text x="238.00" y="299.25" font-size="21.5" fill="#4a72b8" stroke="#4a72b8" stroke-width="0.22" font-weight="normal" textLength="30.00" lengthAdjust="spacingAndGlyphs" >Li-B</text>
<text x="230.00" y="330.00" font-size="20.5" fill="#111" stroke="#111" stroke-width="0.22" font-weight="normal" textLength="30.50" lengthAdjust="spacingAndGlyphs" >TFA</text>
<text x="344.50" y="376.30" font-size="21.5" fill="#6f9dc8" stroke="#6f9dc8" stroke-width="0.22" font-weight="normal" textLength="34.30" lengthAdjust="spacingAndGlyphs" >Li-Al</text>
<text x="365.60" y="430.10" font-size="21.5" fill="#b0413e" stroke="#b0413e" stroke-width="0.22" font-weight="normal" textLength="32.40" lengthAdjust="spacingAndGlyphs" >Li-In</text>
<text x="484.00" y="247.30" font-size="24" fill="#000" font-weight="bold" textLength="10.80" lengthAdjust="spacingAndGlyphs" >e</text>
<rect x="514" y="247" width="506" height="305.3" fill="#ececec"/>
<defs><linearGradient id="bl1" x1="0" y1="0" x2="1" y2="1"><stop offset="0" stop-color="#89a4d6"/><stop offset="0.5" stop-color="#7f9bcf"/><stop offset="1" stop-color="#7490c7"/></linearGradient><radialGradient id="bigc" cx="0.5" cy="0.5" r="0.5"><stop offset="0" stop-color="#d0d0d0"/><stop offset="0.55" stop-color="#c0c0c0"/><stop offset="1" stop-color="#a6a6a6"/></radialGradient><radialGradient id="bhl" cx="0.5" cy="0.5" r="0.5"><stop offset="0" stop-color="#fff" stop-opacity="0.35"/><stop offset="1" stop-color="#fff" stop-opacity="0"/></radialGradient><clipPath id="clipBig"><circle cx="927.9" cy="407.1" r="67.3"/></clipPath></defs>
<path d="M574.0 400.0C577.0 391.0 583.7 382.7 590.0 376.0C596.3 369.3 606.2 366.0 612.0 360.0C617.8 354.0 619.5 344.2 625.0 340.0C630.5 335.8 638.3 335.7 645.0 335.0C651.7 334.3 659.5 333.8 665.0 336.0C670.5 338.2 673.0 345.3 678.0 348.0C683.0 350.7 689.3 351.0 695.0 352.0C700.7 353.0 704.5 353.3 712.0 354.0C719.5 354.7 732.0 353.0 740.0 356.0C748.0 359.0 754.7 365.5 760.0 372.0C765.3 378.5 770.7 387.8 772.0 395.0C773.3 402.2 769.3 407.5 768.0 415.0C766.7 422.5 764.7 432.2 764.0 440.0C763.3 447.8 766.0 455.3 764.0 462.0C762.0 468.7 755.0 473.7 752.0 480.0C749.0 486.3 748.8 494.0 746.0 500.0C743.2 506.0 740.2 512.7 735.0 516.0C729.8 519.3 722.5 520.3 715.0 520.0C707.5 519.7 698.3 515.0 690.0 514.0C681.7 513.0 673.3 514.7 665.0 514.0C656.7 513.3 647.5 513.0 640.0 510.0C632.5 507.0 627.3 499.3 620.0 496.0C612.7 492.7 602.7 492.7 596.0 490.0C589.3 487.3 583.2 484.7 580.0 480.0C576.8 475.3 577.0 467.3 577.0 462.0C577.0 456.7 580.8 453.3 580.0 448.0C579.2 442.7 573.0 438.0 572.0 430.0C571.0 422.0 571.0 409.0 574.0 400.0Z" fill="#7f9bcf" fill-opacity="0.5"/>
<path d="M608.4 353.4C607.6 349.7 609.1 346.5 610.0 344.0C610.9 341.5 612.0 340.0 614.0 338.5C616.0 337.0 617.5 336.1 621.8 335.0C626.1 333.9 633.3 332.7 640.0 332.0C646.7 331.3 657.1 330.6 661.8 330.8C666.5 331.0 666.5 331.7 668.0 333.0C669.5 334.3 670.7 336.1 671.0 338.4C671.3 340.7 670.8 343.4 670.0 346.7C669.2 350.0 668.5 354.4 666.0 358.0C663.5 361.6 660.2 365.7 655.0 368.0C649.8 370.3 641.7 372.3 635.0 372.0C628.3 371.7 619.4 369.1 615.0 366.0C610.6 362.9 609.2 357.1 608.4 353.4Z" fill="url(#bl1)" fill-opacity="0.4"/>
<path d="M660.0 362.0C661.0 356.5 662.0 354.6 664.0 352.0C666.0 349.4 669.0 347.7 672.0 346.5C675.0 345.3 678.4 344.8 681.7 345.0C685.0 345.2 689.0 346.0 692.0 348.0C695.0 350.0 698.0 353.0 700.0 357.0C702.0 361.0 703.2 365.7 704.0 372.0C704.8 378.3 705.7 388.2 705.0 395.0C704.3 401.8 702.8 408.5 700.0 413.0C697.2 417.5 692.7 420.8 688.0 422.0C683.3 423.2 676.3 422.3 672.0 420.0C667.7 417.7 664.3 413.8 662.0 408.0C659.7 402.2 658.3 392.7 658.0 385.0C657.7 377.3 659.0 367.5 660.0 362.0Z" fill="url(#bl1)" fill-opacity="0.4"/>
<path d="M700.9 358.0C701.2 355.0 701.8 355.1 703.0 354.0C704.2 352.9 705.6 352.3 708.4 351.7C711.2 351.1 715.6 350.5 720.0 350.5C724.4 350.5 730.0 350.6 735.0 351.7C740.0 352.8 745.8 354.5 750.0 357.0C754.2 359.5 756.5 362.9 760.0 366.7C763.5 370.5 767.8 375.0 771.0 380.0C774.2 385.0 778.0 392.5 779.3 396.8C780.6 401.1 779.7 403.2 779.0 406.0C778.3 408.8 777.0 411.2 775.0 413.4C773.0 415.6 770.4 419.3 766.8 419.3C763.2 419.3 758.8 414.9 753.5 413.4C748.2 411.8 740.9 411.9 735.0 410.0C729.1 408.1 723.0 405.7 718.0 402.0C713.0 398.3 707.8 393.0 705.0 388.0C702.2 383.0 701.7 377.0 701.0 372.0C700.3 367.0 700.6 361.0 700.9 358.0Z" fill="url(#bl1)" fill-opacity="0.4"/>
<path d="M566.7 396.8C567.4 391.5 570.2 391.1 573.0 388.0C575.8 384.9 579.7 381.6 583.4 378.4C587.1 375.2 590.8 371.8 595.0 369.0C599.2 366.2 603.9 363.3 608.4 361.7C612.9 360.1 616.8 359.2 621.8 359.2C626.8 359.2 632.9 359.3 638.4 361.7C643.9 364.1 650.9 369.0 655.0 373.4C659.1 377.8 661.3 382.7 663.0 388.0C664.7 393.3 665.5 398.0 665.0 405.0C664.5 412.0 663.3 423.0 660.0 430.0C656.7 437.0 651.7 442.8 645.0 447.0C638.3 451.2 628.3 453.8 620.0 455.0C611.7 456.2 601.2 454.8 595.0 454.0C588.8 453.2 586.1 452.9 582.5 450.3C578.9 447.7 575.7 443.4 573.4 438.4C571.1 433.3 569.9 426.9 568.8 420.0C567.7 413.1 566.0 402.1 566.7 396.8Z" fill="url(#bl1)" fill-opacity="0.4"/>
<path d="M683.0 432.0C683.7 425.8 685.2 421.7 688.0 418.0C690.8 414.3 694.7 411.7 700.0 410.0C705.3 408.3 712.5 407.8 720.0 408.0C727.5 408.2 738.0 409.7 745.0 411.0C752.0 412.3 758.4 414.5 762.0 416.0C765.6 417.5 765.4 416.0 766.5 420.0C767.6 424.0 768.2 433.9 768.5 440.0C768.8 446.1 768.9 451.7 768.3 456.7C767.7 461.7 766.5 466.6 765.0 470.0C763.5 473.4 762.5 475.1 759.2 476.9C755.9 478.7 749.3 480.2 745.0 481.0C740.7 481.8 739.2 481.7 733.4 481.5C727.6 481.3 716.9 481.6 710.0 480.0C703.1 478.4 696.3 476.2 692.0 472.0C687.7 467.8 685.5 461.7 684.0 455.0C682.5 448.3 682.3 438.2 683.0 432.0Z" fill="url(#bl1)" fill-opacity="0.4"/>
<path d="M618.0 445.0C618.0 437.5 620.5 429.7 625.0 425.0C629.5 420.3 637.2 418.3 645.0 417.0C652.8 415.7 664.2 415.3 672.0 417.0C679.8 418.7 687.8 421.5 692.0 427.0C696.2 432.5 697.3 442.5 697.0 450.0C696.7 457.5 694.5 466.5 690.0 472.0C685.5 477.5 677.5 481.2 670.0 483.0C662.5 484.8 652.5 485.2 645.0 483.0C637.5 480.8 629.5 476.3 625.0 470.0C620.5 463.7 618.0 452.5 618.0 445.0Z" fill="url(#bl1)" fill-opacity="0.4"/>
<path d="M572.4 467.7C572.2 464.7 572.9 462.0 574.0 460.0C575.1 458.0 576.2 457.3 578.9 455.8C581.6 454.3 584.8 451.6 590.0 451.0C595.2 450.4 603.3 450.8 610.0 452.0C616.7 453.2 624.7 455.0 630.0 458.0C635.3 461.0 639.4 465.6 642.0 470.0C644.6 474.4 646.2 480.3 645.9 484.3C645.6 488.3 643.5 491.6 640.0 494.0C636.5 496.4 630.0 498.3 625.0 499.0C620.0 499.7 615.0 498.8 610.0 498.0C605.0 497.2 599.6 496.0 595.0 494.0C590.4 492.0 585.8 488.7 582.5 486.0C579.2 483.3 576.7 481.1 575.0 478.0C573.3 474.9 572.6 470.7 572.4 467.7Z" fill="url(#bl1)" fill-opacity="0.4"/>
<path d="M617.4 495.0C617.4 491.0 622.6 486.5 628.0 484.0C633.4 481.5 642.2 480.2 650.0 480.0C657.8 479.8 668.7 480.5 675.0 483.0C681.3 485.5 686.3 490.2 688.0 495.0C689.7 499.8 688.3 508.2 685.0 512.0C681.7 515.8 674.7 517.5 668.0 518.0C661.3 518.5 651.7 516.7 645.0 515.0C638.3 513.3 632.6 511.3 628.0 508.0C623.4 504.7 617.4 499.0 617.4 495.0Z" fill="url(#bl1)" fill-opacity="0.4"/>
<path d="M683.0 499.0C682.4 494.1 682.8 491.2 684.0 488.0C685.2 484.8 686.5 482.0 690.0 480.0C693.5 478.0 698.3 476.5 705.0 476.0C711.7 475.5 723.3 476.3 730.0 477.0C736.7 477.7 741.7 477.3 745.0 480.0C748.3 482.7 749.5 489.1 750.0 493.4C750.5 497.7 749.7 502.1 748.0 506.0C746.3 509.9 744.0 513.9 740.0 517.0C736.0 520.1 730.1 523.7 724.3 524.7C718.5 525.7 711.1 524.2 705.0 523.0C698.9 521.8 691.2 521.3 687.5 517.3C683.8 513.3 683.6 503.9 683.0 499.0Z" fill="url(#bl1)" fill-opacity="0.4"/>
<ellipse cx="640" cy="400" rx="28" ry="22" fill="url(#bhl)"/>
<ellipse cx="660" cy="440" rx="22" ry="16" fill="url(#bhl)"/>
<ellipse cx="745" cy="385" rx="18" ry="14" fill="url(#bhl)"/>
<ellipse cx="725" cy="440" rx="20" ry="16" fill="url(#bhl)"/>
<ellipse cx="600" cy="480" rx="18" ry="12" fill="url(#bhl)"/>
<ellipse cx="720" cy="500" rx="18" ry="14" fill="url(#bhl)"/>
<ellipse cx="680" cy="380" rx="12" ry="16" fill="url(#bhl)"/>
<path d="M626 339.2 C627.5 350 628 360 627.6 370 C626 380 623 388 621.8 395 C619 405 617.5 412 617.4 420 C616 445 614.5 470 613.8 495.3" fill="none" stroke="#e8e5df" stroke-width="1.8" stroke-linecap="round"/>
<path d="M606.7 368.4 C602 385 598 402 594.5 420 C591 432 587 445 584.4 454.9" fill="none" stroke="#e8e5df" stroke-width="1.8" stroke-linecap="round"/>
<path d="M629.3 338.4 C634 341 638 344 641.8 348.4 C647 354 651 360 655 365 C664 372 675 379 685 386.8 C691 393 696 402 700 412" fill="none" stroke="#e8e5df" stroke-width="1.8" stroke-linecap="round"/>
<path d="M671.8 355.9 C671.5 378 670.5 400 669.2 420 C668 440 666.5 458 665 475 C663.5 488 662 500 660.6 510" fill="none" stroke="#e8e5df" stroke-width="1.8" stroke-linecap="round"/>
<path d="M705 360 C705.8 372 706.2 385 705.9 396.8 C704.5 403 703 408 700.9 411.8 C700 414 699.7 417 699.5 420 C697 436 694.5 451 693 466 C692.8 483 692.9 500 693 517.3" fill="none" stroke="#e8e5df" stroke-width="1.8" stroke-linecap="round"/>
<path d="M718.4 355.9 C737 370 755 384 773.5 398.4" fill="none" stroke="#e8e5df" stroke-width="1.8" stroke-linecap="round"/>
<path d="M747.6 365 C746.8 375 745.8 386 745.1 396.8 C744.5 404 744 412 743.5 420 C740 440 733 458 728 475 C726 490 725 505 724.3 520" fill="none" stroke="#e8e5df" stroke-width="1.8" stroke-linecap="round"/>
<path d="M582 417.5 C597 428 613 437 628.4 447.5 C639 455 649 464 657.8 473.2 C668 479 677 484 685 488 C699 496 712 505 724.3 513.6" fill="none" stroke="#e8e5df" stroke-width="1.8" stroke-linecap="round"/>
<path d="M589.9 458.6 C608 472 626 486 644 499.9" fill="none" stroke="#e8e5df" stroke-width="1.8" stroke-linecap="round"/>
<path d="M662 369 C674 378 688 388 699 397.5" fill="none" stroke="#e8e5df" stroke-width="1.8" stroke-linecap="round"/>
<path d="M700 412 C708 417 716 421 722 424" fill="none" stroke="#e8e5df" stroke-width="1.8" stroke-linecap="round"/>
<circle cx="699.3" cy="408.6" r="21.7" fill="none" stroke="#8b8b8b" stroke-width="1.6"/>
<line x1="720.3" y1="397.8" x2="897.1" y2="346.3" stroke="#868686" stroke-width="1.8"/>
<line x1="714.8" y1="426.3" x2="895.6" y2="466.4" stroke="#868686" stroke-width="1.8"/>
<circle cx="927.9" cy="407.1" r="67.3" fill="url(#bigc)"/>
<g clip-path="url(#clipBig)" fill="none" stroke="#dcdfe6" stroke-width="6.2" stroke-linecap="round" opacity="0.92">
<path d="M921.5 338 C926 352 938 360 944 374 C945 384 943 396 941.5 408 C940 418 938 426 936.4 432"/>
<path d="M860 410 C868 404 880 404 890 410 C898 416 902 424 909 428 C918 432 928 433 936.4 431 C945 429 952 428 958.4 425"/>
<path d="M998 389 C990 391 984 393 980.7 396.3 C970 399 963 410 958.4 425"/>
<path d="M936.4 431 C934 442 926 452 917 459 C910 464 902 468 894 472"/>
</g>
<circle cx="945.9" cy="373.8" r="13" fill="#8ca0cb"/>
<text x="937.1999999999999" y="379.8" font-size="16.5" fill="#222" stroke="#222" stroke-width="0.2" textLength="11" lengthAdjust="spacingAndGlyphs">Li</text>
<text x="948.6999999999999" y="372.6" font-size="9.5" font-weight="bold" fill="#222">+</text>
<circle cx="908.8" cy="427.6" r="13" fill="#8ca0cb"/>
<text x="900.0999999999999" y="433.6" font-size="16.5" fill="#222" stroke="#222" stroke-width="0.2" textLength="11" lengthAdjust="spacingAndGlyphs">Li</text>
<text x="911.5999999999999" y="426.40000000000003" font-size="9.5" font-weight="bold" fill="#222">+</text>
<circle cx="958.4" cy="425.1" r="13" fill="#8ca0cb"/>
<text x="949.6999999999999" y="431.1" font-size="16.5" fill="#222" stroke="#222" stroke-width="0.2" textLength="11" lengthAdjust="spacingAndGlyphs">Li</text>
<text x="961.1999999999999" y="423.90000000000003" font-size="9.5" font-weight="bold" fill="#222">+</text>
<circle cx="872" cy="408.4" r="10.5" fill="#d8b9b9"/>
<text x="866.2" y="413.59999999999997" font-size="16.5" fill="#222" stroke="#222" stroke-width="0.2" textLength="8.2" lengthAdjust="spacingAndGlyphs">e</text>
<text x="874.8" y="405.59999999999997" font-size="10" font-weight="bold" fill="#222">-</text>
<circle cx="980.7" cy="396.3" r="10.5" fill="#d8b9b9"/>
<text x="974.9000000000001" y="401.5" font-size="16.5" fill="#222" stroke="#222" stroke-width="0.2" textLength="8.2" lengthAdjust="spacingAndGlyphs">e</text>
<text x="983.5" y="393.5" font-size="10" font-weight="bold" fill="#222">-</text>
<circle cx="917.1" cy="458.9" r="10.5" fill="#d8b9b9"/>
<text x="911.3000000000001" y="464.09999999999997" font-size="16.5" fill="#222" stroke="#222" stroke-width="0.2" textLength="8.2" lengthAdjust="spacingAndGlyphs">e</text>
<text x="919.9" y="456.09999999999997" font-size="10" font-weight="bold" fill="#222">-</text>
<text x="535.50" y="289.50" font-size="18" fill="#808080" stroke="#808080" stroke-width="0.22" font-weight="normal" textLength="122.75" lengthAdjust="spacingAndGlyphs" >Topology structure</text>
<text x="524.25" y="313.00" font-size="18" fill="#808080" stroke="#808080" stroke-width="0.22" font-weight="normal" textLength="145.75" lengthAdjust="spacingAndGlyphs" >(modulus &amp; transport)</text>
<text x="759.00" y="303.00" font-size="18" fill="#4f6fae" stroke="#4f6fae" stroke-width="0.22" font-weight="normal" textLength="94.30" lengthAdjust="spacingAndGlyphs" >Lithium phase</text>
<text x="735.00" y="327.20" font-size="18" fill="#4f6fae" stroke="#4f6fae" stroke-width="0.22" font-weight="normal" textLength="142.00" lengthAdjust="spacingAndGlyphs" >(capacity &amp; potential)</text>
<text x="888.20" y="503.20" font-size="18" fill="#1a1a1a" stroke="#1a1a1a" stroke-width="0.22" font-weight="normal" textLength="77.80" lengthAdjust="spacingAndGlyphs" >Delocalized</text>
<text x="868.80" y="526.70" font-size="18" fill="#1a1a1a" stroke="#1a1a1a" stroke-width="0.22" font-weight="normal" textLength="116.90" lengthAdjust="spacingAndGlyphs" >transport channel</text>
</g></svg></body></html>
